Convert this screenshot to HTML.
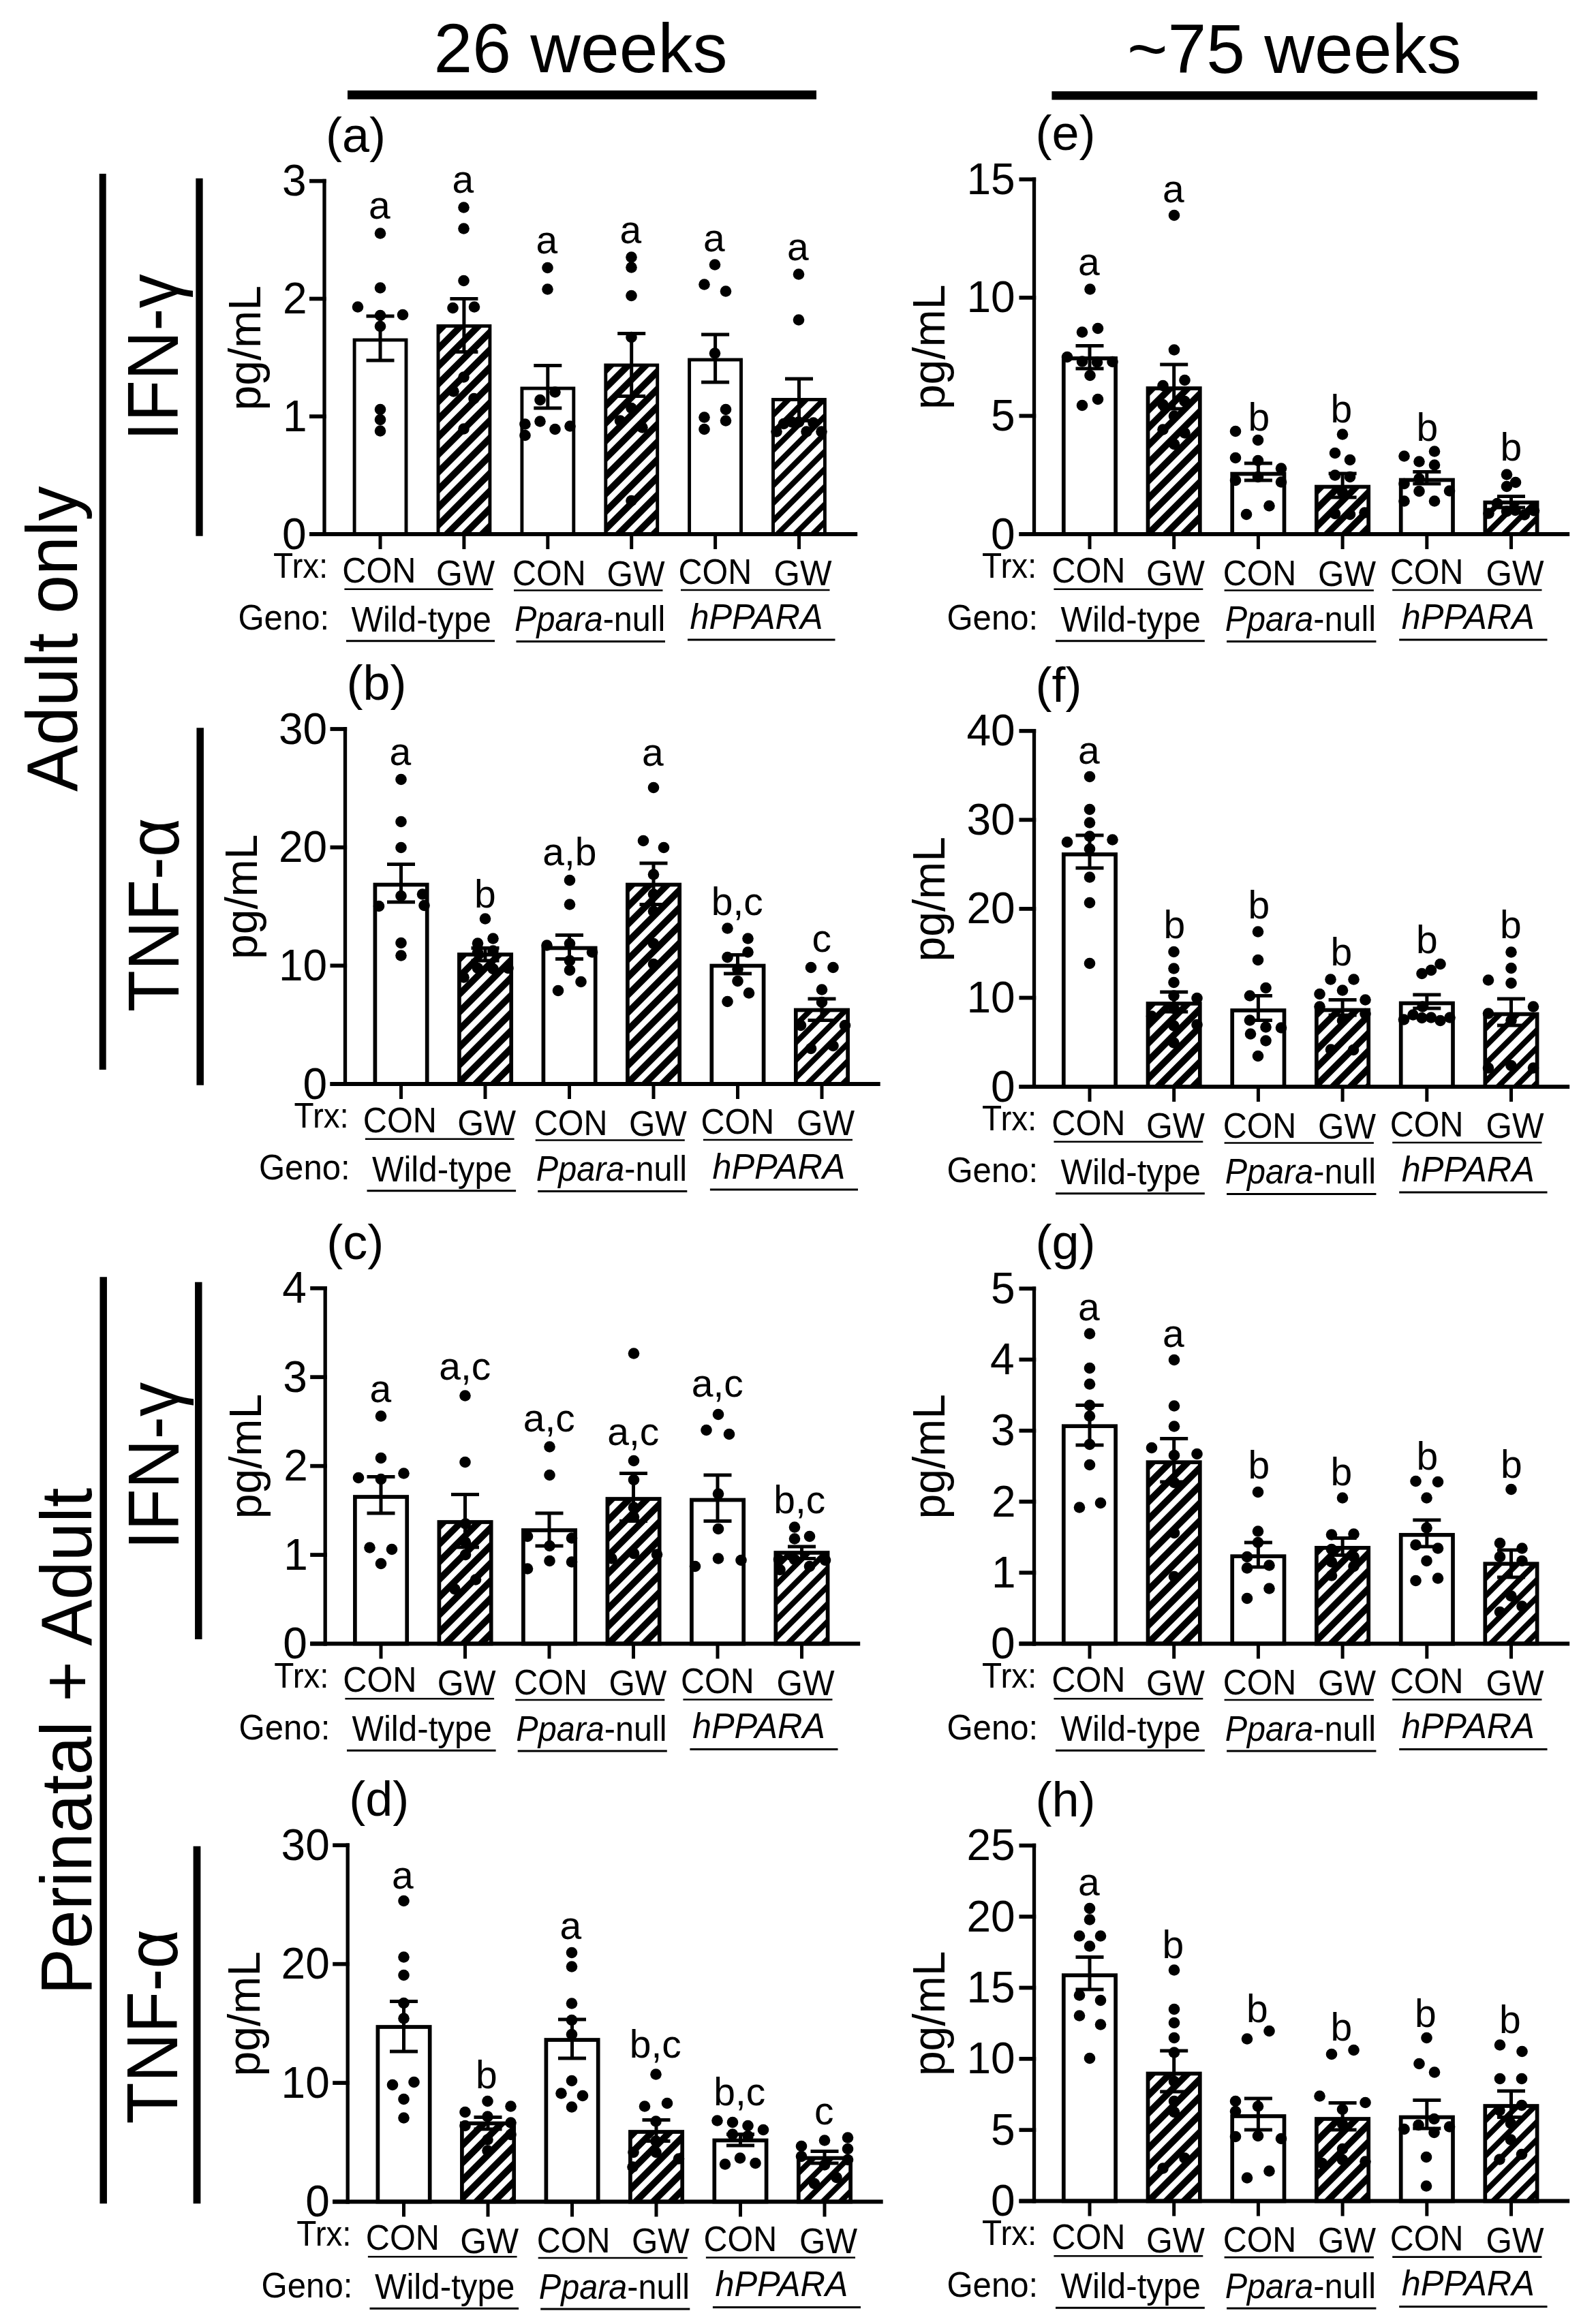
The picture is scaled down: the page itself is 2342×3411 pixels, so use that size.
<!DOCTYPE html>
<html><head><meta charset="utf-8"><title>Figure</title>
<style>html,body{margin:0;padding:0;background:#fff}svg{display:block}text{font-family:'Liberation Sans', sans-serif;fill:#000}</style>
</head><body>
<svg width="2342" height="3411" viewBox="0 0 2342 3411">
<rect width="2342" height="3411" fill="#fff"/>
<rect x="520.1" y="499.0" width="75.9" height="285.0" fill="#fff" stroke="#000" stroke-width="4.9"/>
<clipPath id="c1"><rect x="643.0" y="478.5" width="75.9" height="305.5"/></clipPath>
<rect x="643.0" y="478.5" width="75.9" height="305.5" fill="#000"/>
<path d="M630.5 485.4L731.3 384.7M630.5 511.4L731.3 410.6M630.5 537.2L731.3 436.5M630.5 563.1L731.3 462.4M630.5 589.0L731.3 488.2M630.5 615.0L731.3 514.1M630.5 640.9L731.3 540.1M630.5 666.8L731.3 566.0M630.5 692.6L731.3 591.9M630.5 718.5L731.3 617.8M630.5 744.5L731.3 643.6M630.5 770.4L731.3 669.5M630.5 796.2L731.3 695.5M630.5 822.1L731.3 721.3M630.5 848.0L731.3 747.2M630.5 874.0L731.3 773.1" stroke="#fff" stroke-width="8.49" fill="none" clip-path="url(#c1)"/>
<rect x="643.0" y="478.5" width="75.9" height="305.5" fill="none" stroke="#000" stroke-width="4.9"/>
<rect x="765.9" y="570.0" width="75.9" height="214.0" fill="#fff" stroke="#000" stroke-width="4.9"/>
<clipPath id="c2"><rect x="888.8" y="536.0" width="75.9" height="248.0"/></clipPath>
<rect x="888.8" y="536.0" width="75.9" height="248.0" fill="#000"/>
<path d="M876.3 542.9L977.1 442.1M876.3 568.8L977.1 468.0M876.3 594.8L977.1 493.9M876.3 620.6L977.1 519.8M876.3 646.5L977.1 545.8M876.3 672.4L977.1 571.6M876.3 698.3L977.1 597.5M876.3 724.2L977.1 623.4M876.3 750.1L977.1 649.3M876.3 776.0L977.1 675.2M876.3 801.9L977.1 701.1M876.3 827.8L977.1 727.0M876.3 853.8L977.1 752.9M876.3 879.6L977.1 778.8" stroke="#fff" stroke-width="8.49" fill="none" clip-path="url(#c2)"/>
<rect x="888.8" y="536.0" width="75.9" height="248.0" fill="none" stroke="#000" stroke-width="4.9"/>
<rect x="1011.6" y="528.0" width="75.9" height="256.0" fill="#fff" stroke="#000" stroke-width="4.9"/>
<clipPath id="c3"><rect x="1134.5" y="586.5" width="75.9" height="197.5"/></clipPath>
<rect x="1134.5" y="586.5" width="75.9" height="197.5" fill="#000"/>
<path d="M1122.1 582.5L1222.9 481.7M1122.1 608.4L1222.9 507.6M1122.1 634.3L1222.9 533.5M1122.1 660.2L1222.9 559.4M1122.1 686.1L1222.9 585.3M1122.1 712.0L1222.9 611.2M1122.1 737.9L1222.9 637.1M1122.1 763.8L1222.9 663.0M1122.1 789.8L1222.9 688.9M1122.1 815.6L1222.9 714.8M1122.1 841.5L1222.9 740.8M1122.1 867.4L1222.9 766.6" stroke="#fff" stroke-width="10.18" fill="none" clip-path="url(#c3)"/>
<rect x="1134.5" y="586.5" width="75.9" height="197.5" fill="none" stroke="#000" stroke-width="4.9"/>
<line x1="558.0" y1="464.0" x2="558.0" y2="529.0" stroke="#000" stroke-width="5.0" stroke-linecap="butt"/>
<line x1="537.5" y1="464.0" x2="578.5" y2="464.0" stroke="#000" stroke-width="5.0" stroke-linecap="butt"/>
<line x1="537.5" y1="529.0" x2="578.5" y2="529.0" stroke="#000" stroke-width="5.0" stroke-linecap="butt"/>
<line x1="680.9" y1="438.5" x2="680.9" y2="516.5" stroke="#000" stroke-width="5.0" stroke-linecap="butt"/>
<line x1="660.4" y1="438.5" x2="701.4" y2="438.5" stroke="#000" stroke-width="5.0" stroke-linecap="butt"/>
<line x1="660.4" y1="516.5" x2="701.4" y2="516.5" stroke="#000" stroke-width="5.0" stroke-linecap="butt"/>
<line x1="803.8" y1="536.5" x2="803.8" y2="599.0" stroke="#000" stroke-width="5.0" stroke-linecap="butt"/>
<line x1="783.3" y1="536.5" x2="824.3" y2="536.5" stroke="#000" stroke-width="5.0" stroke-linecap="butt"/>
<line x1="783.3" y1="599.0" x2="824.3" y2="599.0" stroke="#000" stroke-width="5.0" stroke-linecap="butt"/>
<line x1="926.7" y1="489.5" x2="926.7" y2="581.5" stroke="#000" stroke-width="5.0" stroke-linecap="butt"/>
<line x1="906.2" y1="489.5" x2="947.2" y2="489.5" stroke="#000" stroke-width="5.0" stroke-linecap="butt"/>
<line x1="906.2" y1="581.5" x2="947.2" y2="581.5" stroke="#000" stroke-width="5.0" stroke-linecap="butt"/>
<line x1="1049.6" y1="491.0" x2="1049.6" y2="561.0" stroke="#000" stroke-width="5.0" stroke-linecap="butt"/>
<line x1="1029.1" y1="491.0" x2="1070.1" y2="491.0" stroke="#000" stroke-width="5.0" stroke-linecap="butt"/>
<line x1="1029.1" y1="561.0" x2="1070.1" y2="561.0" stroke="#000" stroke-width="5.0" stroke-linecap="butt"/>
<line x1="1172.5" y1="556.0" x2="1172.5" y2="617.5" stroke="#000" stroke-width="5.0" stroke-linecap="butt"/>
<line x1="1152.0" y1="556.0" x2="1193.0" y2="556.0" stroke="#000" stroke-width="5.0" stroke-linecap="butt"/>
<line x1="1152.0" y1="617.5" x2="1193.0" y2="617.5" stroke="#000" stroke-width="5.0" stroke-linecap="butt"/>
<circle cx="558.0" cy="342.5" r="8.3"/>
<circle cx="558.0" cy="422.5" r="8.3"/>
<circle cx="525.0" cy="450.5" r="8.3"/>
<circle cx="591.0" cy="462.0" r="8.3"/>
<circle cx="558.0" cy="463.0" r="8.3"/>
<circle cx="558.0" cy="479.0" r="8.3"/>
<circle cx="558.0" cy="601.0" r="8.3"/>
<circle cx="558.0" cy="616.0" r="8.3"/>
<circle cx="558.0" cy="632.5" r="8.3"/>
<circle cx="680.5" cy="304.5" r="8.3"/>
<circle cx="680.5" cy="335.5" r="8.3"/>
<circle cx="680.5" cy="412.0" r="8.3"/>
<circle cx="664.5" cy="452.0" r="8.3"/>
<circle cx="696.0" cy="450.5" r="8.3"/>
<circle cx="680.5" cy="553.5" r="8.3"/>
<circle cx="665.5" cy="574.5" r="8.3"/>
<circle cx="695.5" cy="585.0" r="8.3"/>
<circle cx="680.5" cy="629.5" r="8.3"/>
<circle cx="803.5" cy="393.0" r="8.3"/>
<circle cx="803.5" cy="424.5" r="8.3"/>
<circle cx="814.5" cy="575.5" r="8.3"/>
<circle cx="792.5" cy="587.0" r="8.3"/>
<circle cx="792.5" cy="618.5" r="8.3"/>
<circle cx="770.5" cy="622.5" r="8.3"/>
<circle cx="770.5" cy="639.0" r="8.3"/>
<circle cx="814.5" cy="630.0" r="8.3"/>
<circle cx="836.5" cy="625.5" r="8.3"/>
<circle cx="926.5" cy="377.5" r="8.3"/>
<circle cx="926.5" cy="392.5" r="8.3"/>
<circle cx="926.5" cy="434.0" r="8.3"/>
<circle cx="926.5" cy="495.0" r="8.3"/>
<circle cx="926.5" cy="599.0" r="8.3"/>
<circle cx="910.0" cy="617.5" r="8.3"/>
<circle cx="942.5" cy="627.5" r="8.3"/>
<circle cx="926.5" cy="735.0" r="8.3"/>
<circle cx="1049.0" cy="388.5" r="8.3"/>
<circle cx="1033.5" cy="417.5" r="8.3"/>
<circle cx="1065.0" cy="427.5" r="8.3"/>
<circle cx="1049.0" cy="518.5" r="8.3"/>
<circle cx="1065.0" cy="601.0" r="8.3"/>
<circle cx="1033.5" cy="612.5" r="8.3"/>
<circle cx="1065.0" cy="617.5" r="8.3"/>
<circle cx="1033.5" cy="630.0" r="8.3"/>
<circle cx="1172.0" cy="402.5" r="8.3"/>
<circle cx="1172.0" cy="469.5" r="8.3"/>
<circle cx="1150.0" cy="622.0" r="8.3"/>
<circle cx="1162.0" cy="619.5" r="8.3"/>
<circle cx="1172.0" cy="619.5" r="8.3"/>
<circle cx="1193.5" cy="620.5" r="8.3"/>
<circle cx="1139.5" cy="633.5" r="8.3"/>
<circle cx="1183.5" cy="633.5" r="8.3"/>
<circle cx="1205.5" cy="633.5" r="8.3"/>
<line x1="454.0" y1="784.0" x2="1258.2" y2="784.0" stroke="#000" stroke-width="6.0" stroke-linecap="butt"/>
<line x1="476.0" y1="787.0" x2="476.0" y2="262.8" stroke="#000" stroke-width="5.3" stroke-linecap="butt"/>
<line x1="558.0" y1="784.0" x2="558.0" y2="806.0" stroke="#000" stroke-width="5.0" stroke-linecap="butt"/>
<line x1="680.9" y1="784.0" x2="680.9" y2="806.0" stroke="#000" stroke-width="5.0" stroke-linecap="butt"/>
<line x1="803.8" y1="784.0" x2="803.8" y2="806.0" stroke="#000" stroke-width="5.0" stroke-linecap="butt"/>
<line x1="926.7" y1="784.0" x2="926.7" y2="806.0" stroke="#000" stroke-width="5.0" stroke-linecap="butt"/>
<line x1="1049.6" y1="784.0" x2="1049.6" y2="806.0" stroke="#000" stroke-width="5.0" stroke-linecap="butt"/>
<line x1="1172.5" y1="784.0" x2="1172.5" y2="806.0" stroke="#000" stroke-width="5.0" stroke-linecap="butt"/>
<line x1="454.0" y1="784.0" x2="478.6" y2="784.0" stroke="#000" stroke-width="5.8" stroke-linecap="butt"/>
<line x1="454.0" y1="611.2" x2="478.6" y2="611.2" stroke="#000" stroke-width="5.8" stroke-linecap="butt"/>
<line x1="454.0" y1="438.5" x2="478.6" y2="438.5" stroke="#000" stroke-width="5.8" stroke-linecap="butt"/>
<line x1="454.0" y1="265.7" x2="478.6" y2="265.7" stroke="#000" stroke-width="5.8" stroke-linecap="butt"/>
<line x1="505.4" y1="864.7" x2="723.5" y2="864.7" stroke="#000" stroke-width="2.6" stroke-linecap="butt"/>
<line x1="754.0" y1="866.5" x2="972.5" y2="866.5" stroke="#000" stroke-width="2.6" stroke-linecap="butt"/>
<line x1="999.0" y1="866.0" x2="1217.5" y2="866.0" stroke="#000" stroke-width="2.6" stroke-linecap="butt"/>
<line x1="508.0" y1="940.7" x2="726.0" y2="940.7" stroke="#000" stroke-width="3" stroke-linecap="butt"/>
<line x1="757.5" y1="941.5" x2="976.0" y2="941.5" stroke="#000" stroke-width="3" stroke-linecap="butt"/>
<line x1="1009.0" y1="939.0" x2="1225.5" y2="939.0" stroke="#000" stroke-width="3" stroke-linecap="butt"/>
<rect x="550.4" y="1298.5" width="76.3" height="292.5" fill="#fff" stroke="#000" stroke-width="5.7"/>
<clipPath id="c4"><rect x="673.9" y="1401.0" width="76.3" height="190.0"/></clipPath>
<rect x="673.9" y="1401.0" width="76.3" height="190.0" fill="#000"/>
<path d="M661.0 1407.6L763.0 1305.6M661.0 1433.5L763.0 1331.5M661.0 1459.4L763.0 1357.4M661.0 1485.2L763.0 1383.2M661.0 1511.2L763.0 1409.2M661.0 1537.1L763.0 1435.1M661.0 1563.0L763.0 1461.0M661.0 1588.9L763.0 1486.9M661.0 1614.8L763.0 1512.8M661.0 1640.7L763.0 1538.7M661.0 1666.6L763.0 1564.6M661.0 1692.5L763.0 1590.5" stroke="#fff" stroke-width="8.49" fill="none" clip-path="url(#c4)"/>
<rect x="673.9" y="1401.0" width="76.3" height="190.0" fill="none" stroke="#000" stroke-width="5.7"/>
<rect x="797.4" y="1391.5" width="76.3" height="199.5" fill="#fff" stroke="#000" stroke-width="5.7"/>
<clipPath id="c5"><rect x="920.9" y="1298.5" width="76.3" height="292.5"/></clipPath>
<rect x="920.9" y="1298.5" width="76.3" height="292.5" fill="#000"/>
<path d="M908.0 1305.1L1010.0 1203.1M908.0 1331.0L1010.0 1229.0M908.0 1356.9L1010.0 1254.9M908.0 1382.8L1010.0 1280.8M908.0 1408.7L1010.0 1306.7M908.0 1434.6L1010.0 1332.6M908.0 1460.5L1010.0 1358.5M908.0 1486.4L1010.0 1384.4M908.0 1512.2L1010.0 1410.2M908.0 1538.2L1010.0 1436.2M908.0 1564.1L1010.0 1462.1M908.0 1590.0L1010.0 1488.0M908.0 1615.9L1010.0 1513.9M908.0 1641.8L1010.0 1539.8M908.0 1667.7L1010.0 1565.7M908.0 1693.6L1010.0 1591.6" stroke="#fff" stroke-width="8.49" fill="none" clip-path="url(#c5)"/>
<rect x="920.9" y="1298.5" width="76.3" height="292.5" fill="none" stroke="#000" stroke-width="5.7"/>
<rect x="1044.3" y="1417.5" width="76.3" height="173.5" fill="#fff" stroke="#000" stroke-width="5.7"/>
<clipPath id="c6"><rect x="1167.8" y="1482.5" width="76.3" height="108.5"/></clipPath>
<rect x="1167.8" y="1482.5" width="76.3" height="108.5" fill="#000"/>
<path d="M1155.0 1478.2L1257.0 1376.2M1155.0 1504.1L1257.0 1402.1M1155.0 1530.0L1257.0 1428.0M1155.0 1555.9L1257.0 1453.9M1155.0 1581.8L1257.0 1479.8M1155.0 1607.7L1257.0 1505.7M1155.0 1633.6L1257.0 1531.6M1155.0 1659.5L1257.0 1557.5M1155.0 1685.4L1257.0 1583.4" stroke="#fff" stroke-width="10.18" fill="none" clip-path="url(#c6)"/>
<rect x="1167.8" y="1482.5" width="76.3" height="108.5" fill="none" stroke="#000" stroke-width="5.7"/>
<line x1="588.5" y1="1268.5" x2="588.5" y2="1324.0" stroke="#000" stroke-width="5.0" stroke-linecap="butt"/>
<line x1="568.0" y1="1268.5" x2="609.0" y2="1268.5" stroke="#000" stroke-width="5.0" stroke-linecap="butt"/>
<line x1="568.0" y1="1324.0" x2="609.0" y2="1324.0" stroke="#000" stroke-width="5.0" stroke-linecap="butt"/>
<line x1="712.0" y1="1391.5" x2="712.0" y2="1410.0" stroke="#000" stroke-width="5.0" stroke-linecap="butt"/>
<line x1="691.5" y1="1391.5" x2="732.5" y2="1391.5" stroke="#000" stroke-width="5.0" stroke-linecap="butt"/>
<line x1="691.5" y1="1410.0" x2="732.5" y2="1410.0" stroke="#000" stroke-width="5.0" stroke-linecap="butt"/>
<line x1="835.5" y1="1372.5" x2="835.5" y2="1407.5" stroke="#000" stroke-width="5.0" stroke-linecap="butt"/>
<line x1="815.0" y1="1372.5" x2="856.0" y2="1372.5" stroke="#000" stroke-width="5.0" stroke-linecap="butt"/>
<line x1="815.0" y1="1407.5" x2="856.0" y2="1407.5" stroke="#000" stroke-width="5.0" stroke-linecap="butt"/>
<line x1="959.0" y1="1267.0" x2="959.0" y2="1327.5" stroke="#000" stroke-width="5.0" stroke-linecap="butt"/>
<line x1="938.5" y1="1267.0" x2="979.5" y2="1267.0" stroke="#000" stroke-width="5.0" stroke-linecap="butt"/>
<line x1="938.5" y1="1327.5" x2="979.5" y2="1327.5" stroke="#000" stroke-width="5.0" stroke-linecap="butt"/>
<line x1="1082.5" y1="1401.5" x2="1082.5" y2="1429.0" stroke="#000" stroke-width="5.0" stroke-linecap="butt"/>
<line x1="1062.0" y1="1401.5" x2="1103.0" y2="1401.5" stroke="#000" stroke-width="5.0" stroke-linecap="butt"/>
<line x1="1062.0" y1="1429.0" x2="1103.0" y2="1429.0" stroke="#000" stroke-width="5.0" stroke-linecap="butt"/>
<line x1="1206.0" y1="1466.0" x2="1206.0" y2="1497.5" stroke="#000" stroke-width="5.0" stroke-linecap="butt"/>
<line x1="1185.5" y1="1466.0" x2="1226.5" y2="1466.0" stroke="#000" stroke-width="5.0" stroke-linecap="butt"/>
<line x1="1185.5" y1="1497.5" x2="1226.5" y2="1497.5" stroke="#000" stroke-width="5.0" stroke-linecap="butt"/>
<circle cx="588.5" cy="1144.0" r="8.3"/>
<circle cx="588.5" cy="1206.0" r="8.3"/>
<circle cx="588.5" cy="1244.0" r="8.3"/>
<circle cx="588.5" cy="1315.0" r="8.3"/>
<circle cx="620.0" cy="1312.5" r="8.3"/>
<circle cx="556.0" cy="1330.0" r="8.3"/>
<circle cx="622.5" cy="1329.0" r="8.3"/>
<circle cx="588.5" cy="1384.0" r="8.3"/>
<circle cx="588.5" cy="1402.5" r="8.3"/>
<circle cx="712.0" cy="1348.5" r="8.3"/>
<circle cx="701.0" cy="1384.5" r="8.3"/>
<circle cx="723.5" cy="1377.5" r="8.3"/>
<circle cx="701.0" cy="1398.0" r="8.3"/>
<circle cx="723.5" cy="1395.5" r="8.3"/>
<circle cx="701.0" cy="1421.0" r="8.3"/>
<circle cx="723.5" cy="1422.0" r="8.3"/>
<circle cx="745.5" cy="1421.0" r="8.3"/>
<circle cx="680.5" cy="1434.5" r="8.3"/>
<circle cx="836.0" cy="1292.0" r="8.3"/>
<circle cx="836.0" cy="1327.5" r="8.3"/>
<circle cx="802.5" cy="1387.5" r="8.3"/>
<circle cx="836.0" cy="1385.0" r="8.3"/>
<circle cx="869.0" cy="1397.5" r="8.3"/>
<circle cx="836.0" cy="1410.0" r="8.3"/>
<circle cx="836.0" cy="1424.0" r="8.3"/>
<circle cx="852.5" cy="1441.0" r="8.3"/>
<circle cx="819.0" cy="1454.0" r="8.3"/>
<circle cx="959.0" cy="1156.0" r="8.3"/>
<circle cx="944.0" cy="1234.0" r="8.3"/>
<circle cx="974.0" cy="1244.0" r="8.3"/>
<circle cx="959.0" cy="1283.5" r="8.3"/>
<circle cx="959.0" cy="1312.5" r="8.3"/>
<circle cx="959.0" cy="1337.5" r="8.3"/>
<circle cx="959.0" cy="1385.0" r="8.3"/>
<circle cx="959.0" cy="1415.0" r="8.3"/>
<circle cx="1067.5" cy="1362.5" r="8.3"/>
<circle cx="1097.5" cy="1377.5" r="8.3"/>
<circle cx="1097.5" cy="1397.5" r="8.3"/>
<circle cx="1067.5" cy="1405.0" r="8.3"/>
<circle cx="1082.5" cy="1422.5" r="8.3"/>
<circle cx="1082.5" cy="1440.0" r="8.3"/>
<circle cx="1099.0" cy="1457.5" r="8.3"/>
<circle cx="1067.5" cy="1470.0" r="8.3"/>
<circle cx="1190.0" cy="1420.0" r="8.3"/>
<circle cx="1222.5" cy="1420.0" r="8.3"/>
<circle cx="1206.0" cy="1452.5" r="8.3"/>
<circle cx="1206.0" cy="1471.0" r="8.3"/>
<circle cx="1175.0" cy="1505.0" r="8.3"/>
<circle cx="1240.0" cy="1505.0" r="8.3"/>
<circle cx="1190.0" cy="1539.0" r="8.3"/>
<circle cx="1222.5" cy="1535.0" r="8.3"/>
<line x1="484.5" y1="1591.0" x2="1291.7" y2="1591.0" stroke="#000" stroke-width="6.0" stroke-linecap="butt"/>
<line x1="506.5" y1="1594.0" x2="506.5" y2="1067.1" stroke="#000" stroke-width="5.3" stroke-linecap="butt"/>
<line x1="588.5" y1="1591.0" x2="588.5" y2="1613.0" stroke="#000" stroke-width="5.0" stroke-linecap="butt"/>
<line x1="712.0" y1="1591.0" x2="712.0" y2="1613.0" stroke="#000" stroke-width="5.0" stroke-linecap="butt"/>
<line x1="835.5" y1="1591.0" x2="835.5" y2="1613.0" stroke="#000" stroke-width="5.0" stroke-linecap="butt"/>
<line x1="959.0" y1="1591.0" x2="959.0" y2="1613.0" stroke="#000" stroke-width="5.0" stroke-linecap="butt"/>
<line x1="1082.5" y1="1591.0" x2="1082.5" y2="1613.0" stroke="#000" stroke-width="5.0" stroke-linecap="butt"/>
<line x1="1206.0" y1="1591.0" x2="1206.0" y2="1613.0" stroke="#000" stroke-width="5.0" stroke-linecap="butt"/>
<line x1="484.5" y1="1591.0" x2="509.1" y2="1591.0" stroke="#000" stroke-width="5.8" stroke-linecap="butt"/>
<line x1="484.5" y1="1417.3" x2="509.1" y2="1417.3" stroke="#000" stroke-width="5.8" stroke-linecap="butt"/>
<line x1="484.5" y1="1243.7" x2="509.1" y2="1243.7" stroke="#000" stroke-width="5.8" stroke-linecap="butt"/>
<line x1="484.5" y1="1070.0" x2="509.1" y2="1070.0" stroke="#000" stroke-width="5.8" stroke-linecap="butt"/>
<line x1="535.9" y1="1671.7" x2="754.6" y2="1671.7" stroke="#000" stroke-width="2.6" stroke-linecap="butt"/>
<line x1="785.7" y1="1673.5" x2="1004.8" y2="1673.5" stroke="#000" stroke-width="2.6" stroke-linecap="butt"/>
<line x1="1031.9" y1="1673.0" x2="1251.0" y2="1673.0" stroke="#000" stroke-width="2.6" stroke-linecap="butt"/>
<line x1="538.5" y1="1747.7" x2="757.1" y2="1747.7" stroke="#000" stroke-width="3" stroke-linecap="butt"/>
<line x1="789.2" y1="1748.5" x2="1008.3" y2="1748.5" stroke="#000" stroke-width="3" stroke-linecap="butt"/>
<line x1="1041.9" y1="1746.0" x2="1259.0" y2="1746.0" stroke="#000" stroke-width="3" stroke-linecap="butt"/>
<rect x="520.9" y="2197.0" width="76.3" height="215.5" fill="#fff" stroke="#000" stroke-width="5.7"/>
<clipPath id="c7"><rect x="644.4" y="2234.0" width="76.3" height="178.5"/></clipPath>
<rect x="644.4" y="2234.0" width="76.3" height="178.5" fill="#000"/>
<path d="M631.5 2240.6L733.5 2138.6M631.5 2266.5L733.5 2164.5M631.5 2292.3L733.5 2190.3M631.5 2318.2L733.5 2216.2M631.5 2344.2L733.5 2242.2M631.5 2370.1L733.5 2268.1M631.5 2396.0L733.5 2294.0M631.5 2421.8L733.5 2319.8M631.5 2447.8L733.5 2345.8M631.5 2473.7L733.5 2371.7M631.5 2499.6L733.5 2397.6" stroke="#fff" stroke-width="8.49" fill="none" clip-path="url(#c7)"/>
<rect x="644.4" y="2234.0" width="76.3" height="178.5" fill="none" stroke="#000" stroke-width="5.7"/>
<rect x="767.9" y="2246.0" width="76.3" height="166.5" fill="#fff" stroke="#000" stroke-width="5.7"/>
<clipPath id="c8"><rect x="891.4" y="2200.0" width="76.3" height="212.5"/></clipPath>
<rect x="891.4" y="2200.0" width="76.3" height="212.5" fill="#000"/>
<path d="M878.5 2206.6L980.5 2104.6M878.5 2232.5L980.5 2130.5M878.5 2258.3L980.5 2156.3M878.5 2284.2L980.5 2182.2M878.5 2310.2L980.5 2208.2M878.5 2336.1L980.5 2234.1M878.5 2362.0L980.5 2260.0M878.5 2387.8L980.5 2285.8M878.5 2413.8L980.5 2311.8M878.5 2439.7L980.5 2337.7M878.5 2465.6L980.5 2363.6M878.5 2491.5L980.5 2389.5" stroke="#fff" stroke-width="8.49" fill="none" clip-path="url(#c8)"/>
<rect x="891.4" y="2200.0" width="76.3" height="212.5" fill="none" stroke="#000" stroke-width="5.7"/>
<rect x="1014.9" y="2201.5" width="76.3" height="211.0" fill="#fff" stroke="#000" stroke-width="5.7"/>
<clipPath id="c9"><rect x="1138.3" y="2279.0" width="76.3" height="133.5"/></clipPath>
<rect x="1138.3" y="2279.0" width="76.3" height="133.5" fill="#000"/>
<path d="M1125.5 2274.7L1227.5 2172.7M1125.5 2300.6L1227.5 2198.6M1125.5 2326.5L1227.5 2224.5M1125.5 2352.3L1227.5 2250.3M1125.5 2378.2L1227.5 2276.2M1125.5 2404.2L1227.5 2302.2M1125.5 2430.1L1227.5 2328.1M1125.5 2456.0L1227.5 2354.0M1125.5 2481.8L1227.5 2379.8M1125.5 2507.8L1227.5 2405.8" stroke="#fff" stroke-width="10.18" fill="none" clip-path="url(#c9)"/>
<rect x="1138.3" y="2279.0" width="76.3" height="133.5" fill="none" stroke="#000" stroke-width="5.7"/>
<line x1="559.0" y1="2167.5" x2="559.0" y2="2221.0" stroke="#000" stroke-width="5.0" stroke-linecap="butt"/>
<line x1="538.5" y1="2167.5" x2="579.5" y2="2167.5" stroke="#000" stroke-width="5.0" stroke-linecap="butt"/>
<line x1="538.5" y1="2221.0" x2="579.5" y2="2221.0" stroke="#000" stroke-width="5.0" stroke-linecap="butt"/>
<line x1="682.5" y1="2193.5" x2="682.5" y2="2271.0" stroke="#000" stroke-width="5.0" stroke-linecap="butt"/>
<line x1="662.0" y1="2193.5" x2="703.0" y2="2193.5" stroke="#000" stroke-width="5.0" stroke-linecap="butt"/>
<line x1="662.0" y1="2271.0" x2="703.0" y2="2271.0" stroke="#000" stroke-width="5.0" stroke-linecap="butt"/>
<line x1="806.0" y1="2221.0" x2="806.0" y2="2269.0" stroke="#000" stroke-width="5.0" stroke-linecap="butt"/>
<line x1="785.5" y1="2221.0" x2="826.5" y2="2221.0" stroke="#000" stroke-width="5.0" stroke-linecap="butt"/>
<line x1="785.5" y1="2269.0" x2="826.5" y2="2269.0" stroke="#000" stroke-width="5.0" stroke-linecap="butt"/>
<line x1="929.5" y1="2162.5" x2="929.5" y2="2232.5" stroke="#000" stroke-width="5.0" stroke-linecap="butt"/>
<line x1="909.0" y1="2162.5" x2="950.0" y2="2162.5" stroke="#000" stroke-width="5.0" stroke-linecap="butt"/>
<line x1="909.0" y1="2232.5" x2="950.0" y2="2232.5" stroke="#000" stroke-width="5.0" stroke-linecap="butt"/>
<line x1="1053.0" y1="2165.0" x2="1053.0" y2="2232.5" stroke="#000" stroke-width="5.0" stroke-linecap="butt"/>
<line x1="1032.5" y1="2165.0" x2="1073.5" y2="2165.0" stroke="#000" stroke-width="5.0" stroke-linecap="butt"/>
<line x1="1032.5" y1="2232.5" x2="1073.5" y2="2232.5" stroke="#000" stroke-width="5.0" stroke-linecap="butt"/>
<line x1="1176.5" y1="2270.0" x2="1176.5" y2="2287.5" stroke="#000" stroke-width="5.0" stroke-linecap="butt"/>
<line x1="1156.0" y1="2270.0" x2="1197.0" y2="2270.0" stroke="#000" stroke-width="5.0" stroke-linecap="butt"/>
<line x1="1156.0" y1="2287.5" x2="1197.0" y2="2287.5" stroke="#000" stroke-width="5.0" stroke-linecap="butt"/>
<circle cx="559.0" cy="2078.5" r="8.3"/>
<circle cx="559.0" cy="2140.0" r="8.3"/>
<circle cx="526.0" cy="2169.0" r="8.3"/>
<circle cx="592.5" cy="2162.5" r="8.3"/>
<circle cx="559.0" cy="2171.0" r="8.3"/>
<circle cx="542.5" cy="2271.5" r="8.3"/>
<circle cx="575.0" cy="2274.0" r="8.3"/>
<circle cx="559.0" cy="2295.0" r="8.3"/>
<circle cx="682.5" cy="2048.5" r="8.3"/>
<circle cx="682.5" cy="2146.0" r="8.3"/>
<circle cx="683.0" cy="2236.5" r="8.3"/>
<circle cx="683.0" cy="2263.5" r="8.3"/>
<circle cx="683.0" cy="2282.0" r="8.3"/>
<circle cx="698.0" cy="2318.5" r="8.3"/>
<circle cx="667.5" cy="2332.5" r="8.3"/>
<circle cx="806.5" cy="2123.5" r="8.3"/>
<circle cx="806.5" cy="2165.0" r="8.3"/>
<circle cx="774.0" cy="2255.0" r="8.3"/>
<circle cx="839.0" cy="2257.5" r="8.3"/>
<circle cx="806.5" cy="2269.0" r="8.3"/>
<circle cx="806.5" cy="2291.0" r="8.3"/>
<circle cx="839.0" cy="2292.5" r="8.3"/>
<circle cx="774.0" cy="2302.5" r="8.3"/>
<circle cx="930.0" cy="1986.5" r="8.3"/>
<circle cx="930.0" cy="2144.0" r="8.3"/>
<circle cx="930.0" cy="2172.0" r="8.3"/>
<circle cx="930.0" cy="2212.5" r="8.3"/>
<circle cx="930.0" cy="2226.5" r="8.3"/>
<circle cx="930.0" cy="2280.0" r="8.3"/>
<circle cx="897.5" cy="2287.5" r="8.3"/>
<circle cx="964.0" cy="2281.5" r="8.3"/>
<circle cx="1054.0" cy="2076.0" r="8.3"/>
<circle cx="1036.5" cy="2099.0" r="8.3"/>
<circle cx="1070.0" cy="2105.0" r="8.3"/>
<circle cx="1054.0" cy="2192.5" r="8.3"/>
<circle cx="1054.0" cy="2244.0" r="8.3"/>
<circle cx="1054.0" cy="2287.5" r="8.3"/>
<circle cx="1020.0" cy="2299.0" r="8.3"/>
<circle cx="1087.5" cy="2290.0" r="8.3"/>
<circle cx="1166.0" cy="2241.5" r="8.3"/>
<circle cx="1166.0" cy="2258.5" r="8.3"/>
<circle cx="1188.0" cy="2255.0" r="8.3"/>
<circle cx="1143.0" cy="2289.0" r="8.3"/>
<circle cx="1166.0" cy="2289.0" r="8.3"/>
<circle cx="1211.0" cy="2290.0" r="8.3"/>
<circle cx="1188.0" cy="2299.0" r="8.3"/>
<circle cx="1144.5" cy="2304.0" r="8.3"/>
<line x1="455.2" y1="2412.5" x2="1262.2" y2="2412.5" stroke="#000" stroke-width="6.0" stroke-linecap="butt"/>
<line x1="477.2" y1="2415.5" x2="477.2" y2="1887.9" stroke="#000" stroke-width="5.3" stroke-linecap="butt"/>
<line x1="559.0" y1="2412.5" x2="559.0" y2="2434.5" stroke="#000" stroke-width="5.0" stroke-linecap="butt"/>
<line x1="682.5" y1="2412.5" x2="682.5" y2="2434.5" stroke="#000" stroke-width="5.0" stroke-linecap="butt"/>
<line x1="806.0" y1="2412.5" x2="806.0" y2="2434.5" stroke="#000" stroke-width="5.0" stroke-linecap="butt"/>
<line x1="929.5" y1="2412.5" x2="929.5" y2="2434.5" stroke="#000" stroke-width="5.0" stroke-linecap="butt"/>
<line x1="1053.0" y1="2412.5" x2="1053.0" y2="2434.5" stroke="#000" stroke-width="5.0" stroke-linecap="butt"/>
<line x1="1176.5" y1="2412.5" x2="1176.5" y2="2434.5" stroke="#000" stroke-width="5.0" stroke-linecap="butt"/>
<line x1="455.2" y1="2412.5" x2="479.8" y2="2412.5" stroke="#000" stroke-width="5.8" stroke-linecap="butt"/>
<line x1="455.2" y1="2282.1" x2="479.8" y2="2282.1" stroke="#000" stroke-width="5.8" stroke-linecap="butt"/>
<line x1="455.2" y1="2151.7" x2="479.8" y2="2151.7" stroke="#000" stroke-width="5.8" stroke-linecap="butt"/>
<line x1="455.2" y1="2021.2" x2="479.8" y2="2021.2" stroke="#000" stroke-width="5.8" stroke-linecap="butt"/>
<line x1="455.2" y1="1890.8" x2="479.8" y2="1890.8" stroke="#000" stroke-width="5.8" stroke-linecap="butt"/>
<line x1="506.4" y1="2493.2" x2="725.1" y2="2493.2" stroke="#000" stroke-width="2.6" stroke-linecap="butt"/>
<line x1="756.2" y1="2495.0" x2="975.3" y2="2495.0" stroke="#000" stroke-width="2.6" stroke-linecap="butt"/>
<line x1="1002.4" y1="2494.5" x2="1221.5" y2="2494.5" stroke="#000" stroke-width="2.6" stroke-linecap="butt"/>
<line x1="509.0" y1="2569.2" x2="727.6" y2="2569.2" stroke="#000" stroke-width="3" stroke-linecap="butt"/>
<line x1="759.7" y1="2570.0" x2="978.8" y2="2570.0" stroke="#000" stroke-width="3" stroke-linecap="butt"/>
<line x1="1012.4" y1="2567.5" x2="1229.5" y2="2567.5" stroke="#000" stroke-width="3" stroke-linecap="butt"/>
<rect x="554.4" y="2975.0" width="76.3" height="256.5" fill="#fff" stroke="#000" stroke-width="5.7"/>
<clipPath id="c10"><rect x="677.9" y="3116.5" width="76.3" height="115.0"/></clipPath>
<rect x="677.9" y="3116.5" width="76.3" height="115.0" fill="#000"/>
<path d="M665.0 3123.1L767.0 3021.1M665.0 3149.0L767.0 3047.0M665.0 3174.8L767.0 3072.8M665.0 3200.8L767.0 3098.8M665.0 3226.7L767.0 3124.7M665.0 3252.6L767.0 3150.6M665.0 3278.5L767.0 3176.5M665.0 3304.3L767.0 3202.3M665.0 3330.2L767.0 3228.2" stroke="#fff" stroke-width="8.49" fill="none" clip-path="url(#c10)"/>
<rect x="677.9" y="3116.5" width="76.3" height="115.0" fill="none" stroke="#000" stroke-width="5.7"/>
<rect x="801.4" y="2994.0" width="76.3" height="237.5" fill="#fff" stroke="#000" stroke-width="5.7"/>
<clipPath id="c11"><rect x="924.9" y="3129.0" width="76.3" height="102.5"/></clipPath>
<rect x="924.9" y="3129.0" width="76.3" height="102.5" fill="#000"/>
<path d="M912.0 3135.6L1014.0 3033.6M912.0 3161.5L1014.0 3059.5M912.0 3187.3L1014.0 3085.3M912.0 3213.2L1014.0 3111.2M912.0 3239.2L1014.0 3137.2M912.0 3265.1L1014.0 3163.1M912.0 3291.0L1014.0 3189.0M912.0 3316.8L1014.0 3214.8" stroke="#fff" stroke-width="8.49" fill="none" clip-path="url(#c11)"/>
<rect x="924.9" y="3129.0" width="76.3" height="102.5" fill="none" stroke="#000" stroke-width="5.7"/>
<rect x="1048.3" y="3141.5" width="76.3" height="90.0" fill="#fff" stroke="#000" stroke-width="5.7"/>
<clipPath id="c12"><rect x="1171.8" y="3167.5" width="76.3" height="64.0"/></clipPath>
<rect x="1171.8" y="3167.5" width="76.3" height="64.0" fill="#000"/>
<path d="M1159.0 3163.2L1261.0 3061.2M1159.0 3189.1L1261.0 3087.1M1159.0 3215.0L1261.0 3113.0M1159.0 3240.8L1261.0 3138.8M1159.0 3266.8L1261.0 3164.8M1159.0 3292.7L1261.0 3190.7M1159.0 3318.6L1261.0 3216.6" stroke="#fff" stroke-width="10.18" fill="none" clip-path="url(#c12)"/>
<rect x="1171.8" y="3167.5" width="76.3" height="64.0" fill="none" stroke="#000" stroke-width="5.7"/>
<line x1="592.5" y1="2937.5" x2="592.5" y2="3011.0" stroke="#000" stroke-width="5.0" stroke-linecap="butt"/>
<line x1="572.0" y1="2937.5" x2="613.0" y2="2937.5" stroke="#000" stroke-width="5.0" stroke-linecap="butt"/>
<line x1="572.0" y1="3011.0" x2="613.0" y2="3011.0" stroke="#000" stroke-width="5.0" stroke-linecap="butt"/>
<line x1="716.0" y1="3107.5" x2="716.0" y2="3125.0" stroke="#000" stroke-width="5.0" stroke-linecap="butt"/>
<line x1="695.5" y1="3107.5" x2="736.5" y2="3107.5" stroke="#000" stroke-width="5.0" stroke-linecap="butt"/>
<line x1="695.5" y1="3125.0" x2="736.5" y2="3125.0" stroke="#000" stroke-width="5.0" stroke-linecap="butt"/>
<line x1="839.5" y1="2964.0" x2="839.5" y2="3021.0" stroke="#000" stroke-width="5.0" stroke-linecap="butt"/>
<line x1="819.0" y1="2964.0" x2="860.0" y2="2964.0" stroke="#000" stroke-width="5.0" stroke-linecap="butt"/>
<line x1="819.0" y1="3021.0" x2="860.0" y2="3021.0" stroke="#000" stroke-width="5.0" stroke-linecap="butt"/>
<line x1="963.0" y1="3111.5" x2="963.0" y2="3142.5" stroke="#000" stroke-width="5.0" stroke-linecap="butt"/>
<line x1="942.5" y1="3111.5" x2="983.5" y2="3111.5" stroke="#000" stroke-width="5.0" stroke-linecap="butt"/>
<line x1="942.5" y1="3142.5" x2="983.5" y2="3142.5" stroke="#000" stroke-width="5.0" stroke-linecap="butt"/>
<line x1="1086.5" y1="3132.5" x2="1086.5" y2="3149.0" stroke="#000" stroke-width="5.0" stroke-linecap="butt"/>
<line x1="1066.0" y1="3132.5" x2="1107.0" y2="3132.5" stroke="#000" stroke-width="5.0" stroke-linecap="butt"/>
<line x1="1066.0" y1="3149.0" x2="1107.0" y2="3149.0" stroke="#000" stroke-width="5.0" stroke-linecap="butt"/>
<line x1="1210.0" y1="3157.5" x2="1210.0" y2="3175.0" stroke="#000" stroke-width="5.0" stroke-linecap="butt"/>
<line x1="1189.5" y1="3157.5" x2="1230.5" y2="3157.5" stroke="#000" stroke-width="5.0" stroke-linecap="butt"/>
<line x1="1189.5" y1="3175.0" x2="1230.5" y2="3175.0" stroke="#000" stroke-width="5.0" stroke-linecap="butt"/>
<circle cx="592.5" cy="2790.0" r="8.3"/>
<circle cx="592.5" cy="2872.5" r="8.3"/>
<circle cx="592.5" cy="2899.0" r="8.3"/>
<circle cx="592.5" cy="2940.0" r="8.3"/>
<circle cx="592.5" cy="2962.5" r="8.3"/>
<circle cx="576.0" cy="3060.0" r="8.3"/>
<circle cx="607.5" cy="3056.0" r="8.3"/>
<circle cx="592.5" cy="3081.0" r="8.3"/>
<circle cx="592.5" cy="3108.5" r="8.3"/>
<circle cx="715.5" cy="3084.0" r="8.3"/>
<circle cx="749.5" cy="3091.5" r="8.3"/>
<circle cx="682.5" cy="3100.0" r="8.3"/>
<circle cx="715.5" cy="3106.5" r="8.3"/>
<circle cx="682.5" cy="3120.0" r="8.3"/>
<circle cx="749.5" cy="3115.5" r="8.3"/>
<circle cx="749.5" cy="3133.0" r="8.3"/>
<circle cx="715.5" cy="3140.5" r="8.3"/>
<circle cx="715.5" cy="3156.5" r="8.3"/>
<circle cx="839.0" cy="2866.0" r="8.3"/>
<circle cx="839.0" cy="2886.5" r="8.3"/>
<circle cx="839.0" cy="2940.5" r="8.3"/>
<circle cx="839.0" cy="2965.0" r="8.3"/>
<circle cx="839.0" cy="2986.0" r="8.3"/>
<circle cx="839.0" cy="3054.0" r="8.3"/>
<circle cx="823.5" cy="3072.5" r="8.3"/>
<circle cx="855.0" cy="3076.0" r="8.3"/>
<circle cx="839.0" cy="3092.5" r="8.3"/>
<circle cx="962.5" cy="3044.5" r="8.3"/>
<circle cx="946.0" cy="3091.5" r="8.3"/>
<circle cx="979.0" cy="3087.0" r="8.3"/>
<circle cx="962.5" cy="3113.5" r="8.3"/>
<circle cx="962.5" cy="3142.5" r="8.3"/>
<circle cx="962.5" cy="3159.0" r="8.3"/>
<circle cx="929.5" cy="3159.0" r="8.3"/>
<circle cx="996.0" cy="3168.5" r="8.3"/>
<circle cx="928.5" cy="3180.5" r="8.3"/>
<circle cx="1052.5" cy="3112.5" r="8.3"/>
<circle cx="1075.0" cy="3115.0" r="8.3"/>
<circle cx="1097.5" cy="3120.0" r="8.3"/>
<circle cx="1120.0" cy="3126.0" r="8.3"/>
<circle cx="1075.0" cy="3132.5" r="8.3"/>
<circle cx="1097.5" cy="3135.0" r="8.3"/>
<circle cx="1086.0" cy="3167.5" r="8.3"/>
<circle cx="1064.0" cy="3176.5" r="8.3"/>
<circle cx="1108.5" cy="3175.0" r="8.3"/>
<circle cx="1244.0" cy="3137.5" r="8.3"/>
<circle cx="1210.0" cy="3141.5" r="8.3"/>
<circle cx="1176.0" cy="3150.0" r="8.3"/>
<circle cx="1244.0" cy="3154.0" r="8.3"/>
<circle cx="1176.0" cy="3165.0" r="8.3"/>
<circle cx="1244.0" cy="3170.0" r="8.3"/>
<circle cx="1210.0" cy="3177.5" r="8.3"/>
<circle cx="1227.5" cy="3196.0" r="8.3"/>
<circle cx="1195.0" cy="3205.0" r="8.3"/>
<line x1="488.2" y1="3231.5" x2="1295.7" y2="3231.5" stroke="#000" stroke-width="6.0" stroke-linecap="butt"/>
<line x1="510.2" y1="3234.5" x2="510.2" y2="2705.4" stroke="#000" stroke-width="5.3" stroke-linecap="butt"/>
<line x1="592.5" y1="3231.5" x2="592.5" y2="3253.5" stroke="#000" stroke-width="5.0" stroke-linecap="butt"/>
<line x1="716.0" y1="3231.5" x2="716.0" y2="3253.5" stroke="#000" stroke-width="5.0" stroke-linecap="butt"/>
<line x1="839.5" y1="3231.5" x2="839.5" y2="3253.5" stroke="#000" stroke-width="5.0" stroke-linecap="butt"/>
<line x1="963.0" y1="3231.5" x2="963.0" y2="3253.5" stroke="#000" stroke-width="5.0" stroke-linecap="butt"/>
<line x1="1086.5" y1="3231.5" x2="1086.5" y2="3253.5" stroke="#000" stroke-width="5.0" stroke-linecap="butt"/>
<line x1="1210.0" y1="3231.5" x2="1210.0" y2="3253.5" stroke="#000" stroke-width="5.0" stroke-linecap="butt"/>
<line x1="488.2" y1="3231.5" x2="512.9" y2="3231.5" stroke="#000" stroke-width="5.8" stroke-linecap="butt"/>
<line x1="488.2" y1="3057.1" x2="512.9" y2="3057.1" stroke="#000" stroke-width="5.8" stroke-linecap="butt"/>
<line x1="488.2" y1="2882.7" x2="512.9" y2="2882.7" stroke="#000" stroke-width="5.8" stroke-linecap="butt"/>
<line x1="488.2" y1="2708.3" x2="512.9" y2="2708.3" stroke="#000" stroke-width="5.8" stroke-linecap="butt"/>
<line x1="539.9" y1="3312.2" x2="758.6" y2="3312.2" stroke="#000" stroke-width="2.6" stroke-linecap="butt"/>
<line x1="789.7" y1="3314.0" x2="1008.8" y2="3314.0" stroke="#000" stroke-width="2.6" stroke-linecap="butt"/>
<line x1="1035.9" y1="3313.5" x2="1255.0" y2="3313.5" stroke="#000" stroke-width="2.6" stroke-linecap="butt"/>
<line x1="542.5" y1="3388.2" x2="761.1" y2="3388.2" stroke="#000" stroke-width="3" stroke-linecap="butt"/>
<line x1="793.2" y1="3389.0" x2="1012.3" y2="3389.0" stroke="#000" stroke-width="3" stroke-linecap="butt"/>
<line x1="1045.9" y1="3386.5" x2="1263.0" y2="3386.5" stroke="#000" stroke-width="3" stroke-linecap="butt"/>
<rect x="1560.8" y="526.0" width="76.3" height="258.0" fill="#fff" stroke="#000" stroke-width="5.7"/>
<clipPath id="c13"><rect x="1684.5" y="570.0" width="76.3" height="214.0"/></clipPath>
<rect x="1684.5" y="570.0" width="76.3" height="214.0" fill="#000"/>
<path d="M1671.7 576.5L1773.7 474.5M1671.7 602.4L1773.7 500.4M1671.7 628.4L1773.7 526.4M1671.7 654.2L1773.7 552.2M1671.7 680.1L1773.7 578.1M1671.7 706.0L1773.7 604.0M1671.7 732.0L1773.7 630.0M1671.7 757.8L1773.7 655.8M1671.7 783.8L1773.7 681.8M1671.7 809.6L1773.7 707.6M1671.7 835.5L1773.7 733.5M1671.7 861.5L1773.7 759.5M1671.7 887.3L1773.7 785.3" stroke="#fff" stroke-width="8.49" fill="none" clip-path="url(#c13)"/>
<rect x="1684.5" y="570.0" width="76.3" height="214.0" fill="none" stroke="#000" stroke-width="5.7"/>
<rect x="1808.2" y="695.5" width="76.3" height="88.5" fill="#fff" stroke="#000" stroke-width="5.7"/>
<clipPath id="c14"><rect x="1931.9" y="714.5" width="76.3" height="69.5"/></clipPath>
<rect x="1931.9" y="714.5" width="76.3" height="69.5" fill="#000"/>
<path d="M1919.1 721.0L2021.1 619.0M1919.1 746.9L2021.1 644.9M1919.1 772.9L2021.1 670.9M1919.1 798.8L2021.1 696.8M1919.1 824.6L2021.1 722.6M1919.1 850.5L2021.1 748.5M1919.1 876.5L2021.1 774.5" stroke="#fff" stroke-width="8.49" fill="none" clip-path="url(#c14)"/>
<rect x="1931.9" y="714.5" width="76.3" height="69.5" fill="none" stroke="#000" stroke-width="5.7"/>
<rect x="2055.7" y="704.5" width="76.3" height="79.5" fill="#fff" stroke="#000" stroke-width="5.7"/>
<clipPath id="c15"><rect x="2179.3" y="737.5" width="76.3" height="46.5"/></clipPath>
<rect x="2179.3" y="737.5" width="76.3" height="46.5" fill="#000"/>
<path d="M2166.5 733.1L2268.5 631.1M2166.5 759.0L2268.5 657.0M2166.5 784.9L2268.5 682.9M2166.5 810.9L2268.5 708.9M2166.5 836.8L2268.5 734.8M2166.5 862.6L2268.5 760.6M2166.5 888.5L2268.5 786.5" stroke="#fff" stroke-width="10.18" fill="none" clip-path="url(#c15)"/>
<rect x="2179.3" y="737.5" width="76.3" height="46.5" fill="none" stroke="#000" stroke-width="5.7"/>
<line x1="1599.0" y1="507.5" x2="1599.0" y2="541.0" stroke="#000" stroke-width="5.0" stroke-linecap="butt"/>
<line x1="1578.5" y1="507.5" x2="1619.5" y2="507.5" stroke="#000" stroke-width="5.0" stroke-linecap="butt"/>
<line x1="1578.5" y1="541.0" x2="1619.5" y2="541.0" stroke="#000" stroke-width="5.0" stroke-linecap="butt"/>
<line x1="1722.7" y1="535.0" x2="1722.7" y2="600.0" stroke="#000" stroke-width="5.0" stroke-linecap="butt"/>
<line x1="1702.2" y1="535.0" x2="1743.2" y2="535.0" stroke="#000" stroke-width="5.0" stroke-linecap="butt"/>
<line x1="1702.2" y1="600.0" x2="1743.2" y2="600.0" stroke="#000" stroke-width="5.0" stroke-linecap="butt"/>
<line x1="1846.4" y1="680.0" x2="1846.4" y2="705.0" stroke="#000" stroke-width="5.0" stroke-linecap="butt"/>
<line x1="1825.9" y1="680.0" x2="1866.9" y2="680.0" stroke="#000" stroke-width="5.0" stroke-linecap="butt"/>
<line x1="1825.9" y1="705.0" x2="1866.9" y2="705.0" stroke="#000" stroke-width="5.0" stroke-linecap="butt"/>
<line x1="1970.1" y1="695.0" x2="1970.1" y2="730.0" stroke="#000" stroke-width="5.0" stroke-linecap="butt"/>
<line x1="1949.6" y1="695.0" x2="1990.6" y2="695.0" stroke="#000" stroke-width="5.0" stroke-linecap="butt"/>
<line x1="1949.6" y1="730.0" x2="1990.6" y2="730.0" stroke="#000" stroke-width="5.0" stroke-linecap="butt"/>
<line x1="2093.8" y1="692.5" x2="2093.8" y2="710.0" stroke="#000" stroke-width="5.0" stroke-linecap="butt"/>
<line x1="2073.3" y1="692.5" x2="2114.3" y2="692.5" stroke="#000" stroke-width="5.0" stroke-linecap="butt"/>
<line x1="2073.3" y1="710.0" x2="2114.3" y2="710.0" stroke="#000" stroke-width="5.0" stroke-linecap="butt"/>
<line x1="2217.5" y1="728.5" x2="2217.5" y2="745.0" stroke="#000" stroke-width="5.0" stroke-linecap="butt"/>
<line x1="2197.0" y1="728.5" x2="2238.0" y2="728.5" stroke="#000" stroke-width="5.0" stroke-linecap="butt"/>
<line x1="2197.0" y1="745.0" x2="2238.0" y2="745.0" stroke="#000" stroke-width="5.0" stroke-linecap="butt"/>
<circle cx="1599.5" cy="424.5" r="8.3"/>
<circle cx="1611.0" cy="482.0" r="8.3"/>
<circle cx="1588.0" cy="487.5" r="8.3"/>
<circle cx="1566.0" cy="524.0" r="8.3"/>
<circle cx="1632.5" cy="531.0" r="8.3"/>
<circle cx="1588.0" cy="530.5" r="8.3"/>
<circle cx="1610.0" cy="531.5" r="8.3"/>
<circle cx="1599.5" cy="551.0" r="8.3"/>
<circle cx="1611.0" cy="586.0" r="8.3"/>
<circle cx="1588.0" cy="595.0" r="8.3"/>
<circle cx="1723.0" cy="316.0" r="8.3"/>
<circle cx="1723.0" cy="513.5" r="8.3"/>
<circle cx="1738.5" cy="558.0" r="8.3"/>
<circle cx="1706.5" cy="566.0" r="8.3"/>
<circle cx="1738.5" cy="589.0" r="8.3"/>
<circle cx="1706.5" cy="594.0" r="8.3"/>
<circle cx="1723.0" cy="610.5" r="8.3"/>
<circle cx="1706.5" cy="630.5" r="8.3"/>
<circle cx="1738.5" cy="635.5" r="8.3"/>
<circle cx="1723.0" cy="652.0" r="8.3"/>
<circle cx="1813.0" cy="633.0" r="8.3"/>
<circle cx="1846.0" cy="646.0" r="8.3"/>
<circle cx="1813.0" cy="672.0" r="8.3"/>
<circle cx="1846.0" cy="676.0" r="8.3"/>
<circle cx="1880.0" cy="687.5" r="8.3"/>
<circle cx="1846.0" cy="700.0" r="8.3"/>
<circle cx="1813.0" cy="705.0" r="8.3"/>
<circle cx="1880.0" cy="707.5" r="8.3"/>
<circle cx="1862.5" cy="742.5" r="8.3"/>
<circle cx="1829.0" cy="755.0" r="8.3"/>
<circle cx="1970.0" cy="637.5" r="8.3"/>
<circle cx="1959.0" cy="665.0" r="8.3"/>
<circle cx="1981.0" cy="675.0" r="8.3"/>
<circle cx="1959.0" cy="697.5" r="8.3"/>
<circle cx="1981.0" cy="700.0" r="8.3"/>
<circle cx="1970.0" cy="722.5" r="8.3"/>
<circle cx="2002.5" cy="752.5" r="8.3"/>
<circle cx="1959.0" cy="754.0" r="8.3"/>
<circle cx="1981.0" cy="755.0" r="8.3"/>
<circle cx="2060.5" cy="669.5" r="8.3"/>
<circle cx="2105.0" cy="662.5" r="8.3"/>
<circle cx="2082.5" cy="677.5" r="8.3"/>
<circle cx="2105.0" cy="682.5" r="8.3"/>
<circle cx="2082.5" cy="702.5" r="8.3"/>
<circle cx="2060.5" cy="710.0" r="8.3"/>
<circle cx="2082.5" cy="721.0" r="8.3"/>
<circle cx="2127.0" cy="720.5" r="8.3"/>
<circle cx="2060.5" cy="735.5" r="8.3"/>
<circle cx="2105.0" cy="735.5" r="8.3"/>
<circle cx="2211.0" cy="696.5" r="8.3"/>
<circle cx="2224.0" cy="708.0" r="8.3"/>
<circle cx="2211.0" cy="714.0" r="8.3"/>
<circle cx="2197.0" cy="739.0" r="8.3"/>
<circle cx="2184.5" cy="753.5" r="8.3"/>
<circle cx="2211.0" cy="750.5" r="8.3"/>
<circle cx="2223.5" cy="749.0" r="8.3"/>
<circle cx="2237.0" cy="755.5" r="8.3"/>
<circle cx="2251.0" cy="749.5" r="8.3"/>
<line x1="1495.5" y1="784.0" x2="2303.2" y2="784.0" stroke="#000" stroke-width="6.0" stroke-linecap="butt"/>
<line x1="1517.5" y1="787.0" x2="1517.5" y2="260.4" stroke="#000" stroke-width="5.3" stroke-linecap="butt"/>
<line x1="1599.0" y1="784.0" x2="1599.0" y2="806.0" stroke="#000" stroke-width="5.0" stroke-linecap="butt"/>
<line x1="1722.7" y1="784.0" x2="1722.7" y2="806.0" stroke="#000" stroke-width="5.0" stroke-linecap="butt"/>
<line x1="1846.4" y1="784.0" x2="1846.4" y2="806.0" stroke="#000" stroke-width="5.0" stroke-linecap="butt"/>
<line x1="1970.1" y1="784.0" x2="1970.1" y2="806.0" stroke="#000" stroke-width="5.0" stroke-linecap="butt"/>
<line x1="2093.8" y1="784.0" x2="2093.8" y2="806.0" stroke="#000" stroke-width="5.0" stroke-linecap="butt"/>
<line x1="2217.5" y1="784.0" x2="2217.5" y2="806.0" stroke="#000" stroke-width="5.0" stroke-linecap="butt"/>
<line x1="1495.5" y1="784.0" x2="1520.2" y2="784.0" stroke="#000" stroke-width="5.8" stroke-linecap="butt"/>
<line x1="1495.5" y1="610.4" x2="1520.2" y2="610.4" stroke="#000" stroke-width="5.8" stroke-linecap="butt"/>
<line x1="1495.5" y1="436.9" x2="1520.2" y2="436.9" stroke="#000" stroke-width="5.8" stroke-linecap="butt"/>
<line x1="1495.5" y1="263.3" x2="1520.2" y2="263.3" stroke="#000" stroke-width="5.8" stroke-linecap="butt"/>
<line x1="1546.4" y1="864.7" x2="1765.3" y2="864.7" stroke="#000" stroke-width="2.6" stroke-linecap="butt"/>
<line x1="1796.6" y1="866.5" x2="2015.9" y2="866.5" stroke="#000" stroke-width="2.6" stroke-linecap="butt"/>
<line x1="2043.2" y1="866.0" x2="2262.5" y2="866.0" stroke="#000" stroke-width="2.6" stroke-linecap="butt"/>
<line x1="1549.0" y1="940.7" x2="1767.8" y2="940.7" stroke="#000" stroke-width="3" stroke-linecap="butt"/>
<line x1="1800.1" y1="941.5" x2="2019.4" y2="941.5" stroke="#000" stroke-width="3" stroke-linecap="butt"/>
<line x1="2053.2" y1="939.0" x2="2270.5" y2="939.0" stroke="#000" stroke-width="3" stroke-linecap="butt"/>
<rect x="1560.8" y="1254.0" width="76.3" height="341.0" fill="#fff" stroke="#000" stroke-width="5.7"/>
<clipPath id="c16"><rect x="1684.5" y="1473.0" width="76.3" height="122.0"/></clipPath>
<rect x="1684.5" y="1473.0" width="76.3" height="122.0" fill="#000"/>
<path d="M1671.7 1479.6L1773.7 1377.6M1671.7 1505.5L1773.7 1403.5M1671.7 1531.4L1773.7 1429.4M1671.7 1557.2L1773.7 1455.2M1671.7 1583.2L1773.7 1481.2M1671.7 1609.1L1773.7 1507.1M1671.7 1635.0L1773.7 1533.0M1671.7 1660.9L1773.7 1558.9M1671.7 1686.8L1773.7 1584.8" stroke="#fff" stroke-width="8.49" fill="none" clip-path="url(#c16)"/>
<rect x="1684.5" y="1473.0" width="76.3" height="122.0" fill="none" stroke="#000" stroke-width="5.7"/>
<rect x="1808.2" y="1483.0" width="76.3" height="112.0" fill="#fff" stroke="#000" stroke-width="5.7"/>
<clipPath id="c17"><rect x="1931.9" y="1482.5" width="76.3" height="112.5"/></clipPath>
<rect x="1931.9" y="1482.5" width="76.3" height="112.5" fill="#000"/>
<path d="M1919.1 1489.1L2021.1 1387.1M1919.1 1515.0L2021.1 1413.0M1919.1 1540.9L2021.1 1438.9M1919.1 1566.8L2021.1 1464.8M1919.1 1592.7L2021.1 1490.7M1919.1 1618.6L2021.1 1516.6M1919.1 1644.5L2021.1 1542.5M1919.1 1670.4L2021.1 1568.4M1919.1 1696.2L2021.1 1594.2" stroke="#fff" stroke-width="8.49" fill="none" clip-path="url(#c17)"/>
<rect x="1931.9" y="1482.5" width="76.3" height="112.5" fill="none" stroke="#000" stroke-width="5.7"/>
<rect x="2055.7" y="1472.5" width="76.3" height="122.5" fill="#fff" stroke="#000" stroke-width="5.7"/>
<clipPath id="c18"><rect x="2179.3" y="1488.5" width="76.3" height="106.5"/></clipPath>
<rect x="2179.3" y="1488.5" width="76.3" height="106.5" fill="#000"/>
<path d="M2166.5 1484.2L2268.5 1382.2M2166.5 1510.1L2268.5 1408.1M2166.5 1536.0L2268.5 1434.0M2166.5 1561.9L2268.5 1459.9M2166.5 1587.8L2268.5 1485.8M2166.5 1613.7L2268.5 1511.7M2166.5 1639.6L2268.5 1537.6M2166.5 1665.5L2268.5 1563.5M2166.5 1691.4L2268.5 1589.4" stroke="#fff" stroke-width="10.18" fill="none" clip-path="url(#c18)"/>
<rect x="2179.3" y="1488.5" width="76.3" height="106.5" fill="none" stroke="#000" stroke-width="5.7"/>
<line x1="1599.0" y1="1226.0" x2="1599.0" y2="1274.0" stroke="#000" stroke-width="5.0" stroke-linecap="butt"/>
<line x1="1578.5" y1="1226.0" x2="1619.5" y2="1226.0" stroke="#000" stroke-width="5.0" stroke-linecap="butt"/>
<line x1="1578.5" y1="1274.0" x2="1619.5" y2="1274.0" stroke="#000" stroke-width="5.0" stroke-linecap="butt"/>
<line x1="1722.7" y1="1456.0" x2="1722.7" y2="1485.0" stroke="#000" stroke-width="5.0" stroke-linecap="butt"/>
<line x1="1702.2" y1="1456.0" x2="1743.2" y2="1456.0" stroke="#000" stroke-width="5.0" stroke-linecap="butt"/>
<line x1="1702.2" y1="1485.0" x2="1743.2" y2="1485.0" stroke="#000" stroke-width="5.0" stroke-linecap="butt"/>
<line x1="1846.4" y1="1461.5" x2="1846.4" y2="1497.5" stroke="#000" stroke-width="5.0" stroke-linecap="butt"/>
<line x1="1825.9" y1="1461.5" x2="1866.9" y2="1461.5" stroke="#000" stroke-width="5.0" stroke-linecap="butt"/>
<line x1="1825.9" y1="1497.5" x2="1866.9" y2="1497.5" stroke="#000" stroke-width="5.0" stroke-linecap="butt"/>
<line x1="1970.1" y1="1467.5" x2="1970.1" y2="1490.0" stroke="#000" stroke-width="5.0" stroke-linecap="butt"/>
<line x1="1949.6" y1="1467.5" x2="1990.6" y2="1467.5" stroke="#000" stroke-width="5.0" stroke-linecap="butt"/>
<line x1="1949.6" y1="1490.0" x2="1990.6" y2="1490.0" stroke="#000" stroke-width="5.0" stroke-linecap="butt"/>
<line x1="2093.8" y1="1460.0" x2="2093.8" y2="1480.0" stroke="#000" stroke-width="5.0" stroke-linecap="butt"/>
<line x1="2073.3" y1="1460.0" x2="2114.3" y2="1460.0" stroke="#000" stroke-width="5.0" stroke-linecap="butt"/>
<line x1="2073.3" y1="1480.0" x2="2114.3" y2="1480.0" stroke="#000" stroke-width="5.0" stroke-linecap="butt"/>
<line x1="2217.5" y1="1466.0" x2="2217.5" y2="1505.0" stroke="#000" stroke-width="5.0" stroke-linecap="butt"/>
<line x1="2197.0" y1="1466.0" x2="2238.0" y2="1466.0" stroke="#000" stroke-width="5.0" stroke-linecap="butt"/>
<line x1="2197.0" y1="1505.0" x2="2238.0" y2="1505.0" stroke="#000" stroke-width="5.0" stroke-linecap="butt"/>
<circle cx="1599.0" cy="1140.0" r="8.3"/>
<circle cx="1599.0" cy="1188.0" r="8.3"/>
<circle cx="1599.0" cy="1207.5" r="8.3"/>
<circle cx="1566.0" cy="1236.0" r="8.3"/>
<circle cx="1632.5" cy="1232.5" r="8.3"/>
<circle cx="1599.0" cy="1227.5" r="8.3"/>
<circle cx="1599.0" cy="1246.0" r="8.3"/>
<circle cx="1599.0" cy="1287.5" r="8.3"/>
<circle cx="1599.0" cy="1325.0" r="8.3"/>
<circle cx="1599.0" cy="1414.0" r="8.3"/>
<circle cx="1722.5" cy="1397.0" r="8.3"/>
<circle cx="1722.5" cy="1421.5" r="8.3"/>
<circle cx="1722.5" cy="1442.0" r="8.3"/>
<circle cx="1722.5" cy="1461.5" r="8.3"/>
<circle cx="1756.5" cy="1465.0" r="8.3"/>
<circle cx="1690.0" cy="1491.5" r="8.3"/>
<circle cx="1722.5" cy="1505.5" r="8.3"/>
<circle cx="1756.5" cy="1504.0" r="8.3"/>
<circle cx="1722.5" cy="1530.5" r="8.3"/>
<circle cx="1722.5" cy="1480.0" r="8.3"/>
<circle cx="1846.0" cy="1367.5" r="8.3"/>
<circle cx="1846.0" cy="1409.0" r="8.3"/>
<circle cx="1857.5" cy="1450.0" r="8.3"/>
<circle cx="1834.0" cy="1461.5" r="8.3"/>
<circle cx="1834.0" cy="1497.5" r="8.3"/>
<circle cx="1880.0" cy="1508.5" r="8.3"/>
<circle cx="1857.5" cy="1507.5" r="8.3"/>
<circle cx="1835.0" cy="1517.5" r="8.3"/>
<circle cx="1857.5" cy="1527.5" r="8.3"/>
<circle cx="1846.0" cy="1550.0" r="8.3"/>
<circle cx="1952.5" cy="1437.5" r="8.3"/>
<circle cx="1986.5" cy="1437.5" r="8.3"/>
<circle cx="1970.0" cy="1453.5" r="8.3"/>
<circle cx="1936.5" cy="1459.0" r="8.3"/>
<circle cx="2003.5" cy="1467.5" r="8.3"/>
<circle cx="1936.5" cy="1477.5" r="8.3"/>
<circle cx="1970.0" cy="1498.0" r="8.3"/>
<circle cx="2003.5" cy="1488.0" r="8.3"/>
<circle cx="1953.0" cy="1540.5" r="8.3"/>
<circle cx="1986.0" cy="1541.0" r="8.3"/>
<circle cx="2113.5" cy="1415.0" r="8.3"/>
<circle cx="2100.0" cy="1424.0" r="8.3"/>
<circle cx="2086.5" cy="1429.0" r="8.3"/>
<circle cx="2087.5" cy="1477.5" r="8.3"/>
<circle cx="2073.5" cy="1489.5" r="8.3"/>
<circle cx="2060.0" cy="1496.5" r="8.3"/>
<circle cx="2086.5" cy="1494.0" r="8.3"/>
<circle cx="2100.0" cy="1493.5" r="8.3"/>
<circle cx="2113.5" cy="1498.0" r="8.3"/>
<circle cx="2127.5" cy="1493.5" r="8.3"/>
<circle cx="2217.5" cy="1397.5" r="8.3"/>
<circle cx="2217.5" cy="1421.0" r="8.3"/>
<circle cx="2184.0" cy="1438.5" r="8.3"/>
<circle cx="2217.5" cy="1443.0" r="8.3"/>
<circle cx="2250.0" cy="1477.5" r="8.3"/>
<circle cx="2184.0" cy="1487.5" r="8.3"/>
<circle cx="2217.5" cy="1497.5" r="8.3"/>
<circle cx="2184.0" cy="1567.5" r="8.3"/>
<circle cx="2217.5" cy="1564.0" r="8.3"/>
<circle cx="2250.0" cy="1567.5" r="8.3"/>
<line x1="1495.5" y1="1595.0" x2="2303.2" y2="1595.0" stroke="#000" stroke-width="6.0" stroke-linecap="butt"/>
<line x1="1517.5" y1="1598.0" x2="1517.5" y2="1069.9" stroke="#000" stroke-width="5.3" stroke-linecap="butt"/>
<line x1="1599.0" y1="1595.0" x2="1599.0" y2="1617.0" stroke="#000" stroke-width="5.0" stroke-linecap="butt"/>
<line x1="1722.7" y1="1595.0" x2="1722.7" y2="1617.0" stroke="#000" stroke-width="5.0" stroke-linecap="butt"/>
<line x1="1846.4" y1="1595.0" x2="1846.4" y2="1617.0" stroke="#000" stroke-width="5.0" stroke-linecap="butt"/>
<line x1="1970.1" y1="1595.0" x2="1970.1" y2="1617.0" stroke="#000" stroke-width="5.0" stroke-linecap="butt"/>
<line x1="2093.8" y1="1595.0" x2="2093.8" y2="1617.0" stroke="#000" stroke-width="5.0" stroke-linecap="butt"/>
<line x1="2217.5" y1="1595.0" x2="2217.5" y2="1617.0" stroke="#000" stroke-width="5.0" stroke-linecap="butt"/>
<line x1="1495.5" y1="1595.0" x2="1520.2" y2="1595.0" stroke="#000" stroke-width="5.8" stroke-linecap="butt"/>
<line x1="1495.5" y1="1464.5" x2="1520.2" y2="1464.5" stroke="#000" stroke-width="5.8" stroke-linecap="butt"/>
<line x1="1495.5" y1="1333.9" x2="1520.2" y2="1333.9" stroke="#000" stroke-width="5.8" stroke-linecap="butt"/>
<line x1="1495.5" y1="1203.3" x2="1520.2" y2="1203.3" stroke="#000" stroke-width="5.8" stroke-linecap="butt"/>
<line x1="1495.5" y1="1072.8" x2="1520.2" y2="1072.8" stroke="#000" stroke-width="5.8" stroke-linecap="butt"/>
<line x1="1546.4" y1="1675.7" x2="1765.3" y2="1675.7" stroke="#000" stroke-width="2.6" stroke-linecap="butt"/>
<line x1="1796.6" y1="1677.5" x2="2015.9" y2="1677.5" stroke="#000" stroke-width="2.6" stroke-linecap="butt"/>
<line x1="2043.2" y1="1677.0" x2="2262.5" y2="1677.0" stroke="#000" stroke-width="2.6" stroke-linecap="butt"/>
<line x1="1549.0" y1="1751.7" x2="1767.8" y2="1751.7" stroke="#000" stroke-width="3" stroke-linecap="butt"/>
<line x1="1800.1" y1="1752.5" x2="2019.4" y2="1752.5" stroke="#000" stroke-width="3" stroke-linecap="butt"/>
<line x1="2053.2" y1="1750.0" x2="2270.5" y2="1750.0" stroke="#000" stroke-width="3" stroke-linecap="butt"/>
<rect x="1560.8" y="2093.2" width="76.3" height="319.2" fill="#fff" stroke="#000" stroke-width="5.7"/>
<clipPath id="c19"><rect x="1684.5" y="2146.2" width="76.3" height="266.2"/></clipPath>
<rect x="1684.5" y="2146.2" width="76.3" height="266.2" fill="#000"/>
<path d="M1671.7 2152.8L1773.7 2050.8M1671.7 2178.7L1773.7 2076.7M1671.7 2204.6L1773.7 2102.6M1671.7 2230.5L1773.7 2128.5M1671.7 2256.4L1773.7 2154.4M1671.7 2282.3L1773.7 2180.3M1671.7 2308.2L1773.7 2206.2M1671.7 2334.1L1773.7 2232.1M1671.7 2360.0L1773.7 2258.0M1671.7 2385.9L1773.7 2283.9M1671.7 2411.8L1773.7 2309.8M1671.7 2437.7L1773.7 2335.7M1671.7 2463.6L1773.7 2361.6M1671.7 2489.5L1773.7 2387.5M1671.7 2515.4L1773.7 2413.4" stroke="#fff" stroke-width="8.49" fill="none" clip-path="url(#c19)"/>
<rect x="1684.5" y="2146.2" width="76.3" height="266.2" fill="none" stroke="#000" stroke-width="5.7"/>
<rect x="1808.2" y="2284.2" width="76.3" height="128.2" fill="#fff" stroke="#000" stroke-width="5.7"/>
<clipPath id="c20"><rect x="1931.9" y="2271.8" width="76.3" height="140.8"/></clipPath>
<rect x="1931.9" y="2271.8" width="76.3" height="140.8" fill="#000"/>
<path d="M1919.1 2278.3L2021.1 2176.3M1919.1 2304.2L2021.1 2202.2M1919.1 2330.1L2021.1 2228.1M1919.1 2356.0L2021.1 2254.0M1919.1 2381.9L2021.1 2279.9M1919.1 2407.8L2021.1 2305.8M1919.1 2433.7L2021.1 2331.7M1919.1 2459.6L2021.1 2357.6M1919.1 2485.5L2021.1 2383.5M1919.1 2511.4L2021.1 2409.4" stroke="#fff" stroke-width="8.49" fill="none" clip-path="url(#c20)"/>
<rect x="1931.9" y="2271.8" width="76.3" height="140.8" fill="none" stroke="#000" stroke-width="5.7"/>
<rect x="2055.7" y="2252.8" width="76.3" height="159.8" fill="#fff" stroke="#000" stroke-width="5.7"/>
<clipPath id="c21"><rect x="2179.3" y="2295.2" width="76.3" height="117.2"/></clipPath>
<rect x="2179.3" y="2295.2" width="76.3" height="117.2" fill="#000"/>
<path d="M2166.5 2290.9L2268.5 2188.9M2166.5 2316.8L2268.5 2214.8M2166.5 2342.7L2268.5 2240.7M2166.5 2368.6L2268.5 2266.6M2166.5 2394.5L2268.5 2292.5M2166.5 2420.4L2268.5 2318.4M2166.5 2446.3L2268.5 2344.3M2166.5 2472.2L2268.5 2370.2M2166.5 2498.1L2268.5 2396.1" stroke="#fff" stroke-width="10.18" fill="none" clip-path="url(#c21)"/>
<rect x="2179.3" y="2295.2" width="76.3" height="117.2" fill="none" stroke="#000" stroke-width="5.7"/>
<line x1="1599.0" y1="2062.5" x2="1599.0" y2="2121.0" stroke="#000" stroke-width="5.0" stroke-linecap="butt"/>
<line x1="1578.5" y1="2062.5" x2="1619.5" y2="2062.5" stroke="#000" stroke-width="5.0" stroke-linecap="butt"/>
<line x1="1578.5" y1="2121.0" x2="1619.5" y2="2121.0" stroke="#000" stroke-width="5.0" stroke-linecap="butt"/>
<line x1="1722.7" y1="2111.5" x2="1722.7" y2="2175.0" stroke="#000" stroke-width="5.0" stroke-linecap="butt"/>
<line x1="1702.2" y1="2111.5" x2="1743.2" y2="2111.5" stroke="#000" stroke-width="5.0" stroke-linecap="butt"/>
<line x1="1702.2" y1="2175.0" x2="1743.2" y2="2175.0" stroke="#000" stroke-width="5.0" stroke-linecap="butt"/>
<line x1="1846.4" y1="2264.0" x2="1846.4" y2="2300.0" stroke="#000" stroke-width="5.0" stroke-linecap="butt"/>
<line x1="1825.9" y1="2264.0" x2="1866.9" y2="2264.0" stroke="#000" stroke-width="5.0" stroke-linecap="butt"/>
<line x1="1825.9" y1="2300.0" x2="1866.9" y2="2300.0" stroke="#000" stroke-width="5.0" stroke-linecap="butt"/>
<line x1="1970.1" y1="2257.5" x2="1970.1" y2="2282.5" stroke="#000" stroke-width="5.0" stroke-linecap="butt"/>
<line x1="1949.6" y1="2257.5" x2="1990.6" y2="2257.5" stroke="#000" stroke-width="5.0" stroke-linecap="butt"/>
<line x1="1949.6" y1="2282.5" x2="1990.6" y2="2282.5" stroke="#000" stroke-width="5.0" stroke-linecap="butt"/>
<line x1="2093.8" y1="2231.0" x2="2093.8" y2="2270.0" stroke="#000" stroke-width="5.0" stroke-linecap="butt"/>
<line x1="2073.3" y1="2231.0" x2="2114.3" y2="2231.0" stroke="#000" stroke-width="5.0" stroke-linecap="butt"/>
<line x1="2073.3" y1="2270.0" x2="2114.3" y2="2270.0" stroke="#000" stroke-width="5.0" stroke-linecap="butt"/>
<line x1="2217.5" y1="2275.0" x2="2217.5" y2="2315.0" stroke="#000" stroke-width="5.0" stroke-linecap="butt"/>
<line x1="2197.0" y1="2275.0" x2="2238.0" y2="2275.0" stroke="#000" stroke-width="5.0" stroke-linecap="butt"/>
<line x1="2197.0" y1="2315.0" x2="2238.0" y2="2315.0" stroke="#000" stroke-width="5.0" stroke-linecap="butt"/>
<circle cx="1599.0" cy="1957.5" r="8.3"/>
<circle cx="1599.0" cy="2008.0" r="8.3"/>
<circle cx="1599.0" cy="2031.5" r="8.3"/>
<circle cx="1599.0" cy="2062.5" r="8.3"/>
<circle cx="1599.0" cy="2078.5" r="8.3"/>
<circle cx="1599.0" cy="2120.0" r="8.3"/>
<circle cx="1599.0" cy="2150.0" r="8.3"/>
<circle cx="1615.0" cy="2206.0" r="8.3"/>
<circle cx="1584.0" cy="2212.5" r="8.3"/>
<circle cx="1723.0" cy="1996.0" r="8.3"/>
<circle cx="1723.0" cy="2063.5" r="8.3"/>
<circle cx="1723.0" cy="2093.5" r="8.3"/>
<circle cx="1690.0" cy="2125.0" r="8.3"/>
<circle cx="1756.5" cy="2134.0" r="8.3"/>
<circle cx="1723.0" cy="2136.0" r="8.3"/>
<circle cx="1723.0" cy="2176.0" r="8.3"/>
<circle cx="1723.0" cy="2250.0" r="8.3"/>
<circle cx="1723.0" cy="2314.0" r="8.3"/>
<circle cx="1846.0" cy="2190.0" r="8.3"/>
<circle cx="1846.0" cy="2247.5" r="8.3"/>
<circle cx="1846.0" cy="2264.0" r="8.3"/>
<circle cx="1830.0" cy="2285.0" r="8.3"/>
<circle cx="1862.5" cy="2297.5" r="8.3"/>
<circle cx="1830.0" cy="2301.5" r="8.3"/>
<circle cx="1862.5" cy="2331.5" r="8.3"/>
<circle cx="1830.0" cy="2346.0" r="8.3"/>
<circle cx="1970.0" cy="2198.5" r="8.3"/>
<circle cx="1954.0" cy="2252.5" r="8.3"/>
<circle cx="1986.5" cy="2251.5" r="8.3"/>
<circle cx="1954.0" cy="2274.0" r="8.3"/>
<circle cx="1986.5" cy="2285.0" r="8.3"/>
<circle cx="1954.0" cy="2292.5" r="8.3"/>
<circle cx="1986.5" cy="2299.0" r="8.3"/>
<circle cx="1954.0" cy="2312.5" r="8.3"/>
<circle cx="2077.5" cy="2174.0" r="8.3"/>
<circle cx="2110.0" cy="2175.0" r="8.3"/>
<circle cx="2093.5" cy="2198.5" r="8.3"/>
<circle cx="2093.5" cy="2242.5" r="8.3"/>
<circle cx="2077.5" cy="2267.5" r="8.3"/>
<circle cx="2110.0" cy="2272.5" r="8.3"/>
<circle cx="2093.5" cy="2291.0" r="8.3"/>
<circle cx="2110.0" cy="2316.5" r="8.3"/>
<circle cx="2077.5" cy="2320.0" r="8.3"/>
<circle cx="2217.5" cy="2186.0" r="8.3"/>
<circle cx="2201.0" cy="2265.0" r="8.3"/>
<circle cx="2233.5" cy="2272.5" r="8.3"/>
<circle cx="2201.0" cy="2285.0" r="8.3"/>
<circle cx="2233.5" cy="2291.0" r="8.3"/>
<circle cx="2217.5" cy="2342.5" r="8.3"/>
<circle cx="2233.5" cy="2357.5" r="8.3"/>
<circle cx="2201.0" cy="2366.0" r="8.3"/>
<line x1="1495.5" y1="2412.5" x2="2303.2" y2="2412.5" stroke="#000" stroke-width="6.0" stroke-linecap="butt"/>
<line x1="1517.5" y1="2415.5" x2="1517.5" y2="1888.4" stroke="#000" stroke-width="5.3" stroke-linecap="butt"/>
<line x1="1599.0" y1="2412.5" x2="1599.0" y2="2434.5" stroke="#000" stroke-width="5.0" stroke-linecap="butt"/>
<line x1="1722.7" y1="2412.5" x2="1722.7" y2="2434.5" stroke="#000" stroke-width="5.0" stroke-linecap="butt"/>
<line x1="1846.4" y1="2412.5" x2="1846.4" y2="2434.5" stroke="#000" stroke-width="5.0" stroke-linecap="butt"/>
<line x1="1970.1" y1="2412.5" x2="1970.1" y2="2434.5" stroke="#000" stroke-width="5.0" stroke-linecap="butt"/>
<line x1="2093.8" y1="2412.5" x2="2093.8" y2="2434.5" stroke="#000" stroke-width="5.0" stroke-linecap="butt"/>
<line x1="2217.5" y1="2412.5" x2="2217.5" y2="2434.5" stroke="#000" stroke-width="5.0" stroke-linecap="butt"/>
<line x1="1495.5" y1="2412.5" x2="1520.2" y2="2412.5" stroke="#000" stroke-width="5.8" stroke-linecap="butt"/>
<line x1="1495.5" y1="2308.3" x2="1520.2" y2="2308.3" stroke="#000" stroke-width="5.8" stroke-linecap="butt"/>
<line x1="1495.5" y1="2204.0" x2="1520.2" y2="2204.0" stroke="#000" stroke-width="5.8" stroke-linecap="butt"/>
<line x1="1495.5" y1="2099.8" x2="1520.2" y2="2099.8" stroke="#000" stroke-width="5.8" stroke-linecap="butt"/>
<line x1="1495.5" y1="1995.5" x2="1520.2" y2="1995.5" stroke="#000" stroke-width="5.8" stroke-linecap="butt"/>
<line x1="1495.5" y1="1891.3" x2="1520.2" y2="1891.3" stroke="#000" stroke-width="5.8" stroke-linecap="butt"/>
<line x1="1546.4" y1="2493.2" x2="1765.3" y2="2493.2" stroke="#000" stroke-width="2.6" stroke-linecap="butt"/>
<line x1="1796.6" y1="2495.0" x2="2015.9" y2="2495.0" stroke="#000" stroke-width="2.6" stroke-linecap="butt"/>
<line x1="2043.2" y1="2494.5" x2="2262.5" y2="2494.5" stroke="#000" stroke-width="2.6" stroke-linecap="butt"/>
<line x1="1549.0" y1="2569.2" x2="1767.8" y2="2569.2" stroke="#000" stroke-width="3" stroke-linecap="butt"/>
<line x1="1800.1" y1="2570.0" x2="2019.4" y2="2570.0" stroke="#000" stroke-width="3" stroke-linecap="butt"/>
<line x1="2053.2" y1="2567.5" x2="2270.5" y2="2567.5" stroke="#000" stroke-width="3" stroke-linecap="butt"/>
<rect x="1560.8" y="2899.2" width="76.3" height="331.3" fill="#fff" stroke="#000" stroke-width="5.7"/>
<clipPath id="c22"><rect x="1684.5" y="3043.5" width="76.3" height="187.1"/></clipPath>
<rect x="1684.5" y="3043.5" width="76.3" height="187.1" fill="#000"/>
<path d="M1671.7 3050.1L1773.7 2948.1M1671.7 3076.0L1773.7 2974.0M1671.7 3101.8L1773.7 2999.8M1671.7 3127.8L1773.7 3025.8M1671.7 3153.7L1773.7 3051.7M1671.7 3179.6L1773.7 3077.6M1671.7 3205.5L1773.7 3103.5M1671.7 3231.3L1773.7 3129.3M1671.7 3257.2L1773.7 3155.2M1671.7 3283.2L1773.7 3181.2M1671.7 3309.1L1773.7 3207.1" stroke="#fff" stroke-width="8.49" fill="none" clip-path="url(#c22)"/>
<rect x="1684.5" y="3043.5" width="76.3" height="187.1" fill="none" stroke="#000" stroke-width="5.7"/>
<rect x="1808.2" y="3106.0" width="76.3" height="124.6" fill="#fff" stroke="#000" stroke-width="5.7"/>
<clipPath id="c23"><rect x="1931.9" y="3110.0" width="76.3" height="120.6"/></clipPath>
<rect x="1931.9" y="3110.0" width="76.3" height="120.6" fill="#000"/>
<path d="M1919.1 3116.6L2021.1 3014.6M1919.1 3142.5L2021.1 3040.5M1919.1 3168.3L2021.1 3066.3M1919.1 3194.2L2021.1 3092.2M1919.1 3220.2L2021.1 3118.2M1919.1 3246.1L2021.1 3144.1M1919.1 3272.0L2021.1 3170.0M1919.1 3297.8L2021.1 3195.8M1919.1 3323.8L2021.1 3221.8" stroke="#fff" stroke-width="8.49" fill="none" clip-path="url(#c23)"/>
<rect x="1931.9" y="3110.0" width="76.3" height="120.6" fill="none" stroke="#000" stroke-width="5.7"/>
<rect x="2055.7" y="3107.5" width="76.3" height="123.1" fill="#fff" stroke="#000" stroke-width="5.7"/>
<clipPath id="c24"><rect x="2179.3" y="3091.0" width="76.3" height="139.6"/></clipPath>
<rect x="2179.3" y="3091.0" width="76.3" height="139.6" fill="#000"/>
<path d="M2166.5 3086.7L2268.5 2984.7M2166.5 3112.6L2268.5 3010.6M2166.5 3138.5L2268.5 3036.5M2166.5 3164.3L2268.5 3062.3M2166.5 3190.2L2268.5 3088.2M2166.5 3216.2L2268.5 3114.2M2166.5 3242.1L2268.5 3140.1M2166.5 3268.0L2268.5 3166.0M2166.5 3293.8L2268.5 3191.8M2166.5 3319.8L2268.5 3217.8" stroke="#fff" stroke-width="10.18" fill="none" clip-path="url(#c24)"/>
<rect x="2179.3" y="3091.0" width="76.3" height="139.6" fill="none" stroke="#000" stroke-width="5.7"/>
<line x1="1599.0" y1="2872.5" x2="1599.0" y2="2920.0" stroke="#000" stroke-width="5.0" stroke-linecap="butt"/>
<line x1="1578.5" y1="2872.5" x2="1619.5" y2="2872.5" stroke="#000" stroke-width="5.0" stroke-linecap="butt"/>
<line x1="1578.5" y1="2920.0" x2="1619.5" y2="2920.0" stroke="#000" stroke-width="5.0" stroke-linecap="butt"/>
<line x1="1722.7" y1="3010.0" x2="1722.7" y2="3070.0" stroke="#000" stroke-width="5.0" stroke-linecap="butt"/>
<line x1="1702.2" y1="3010.0" x2="1743.2" y2="3010.0" stroke="#000" stroke-width="5.0" stroke-linecap="butt"/>
<line x1="1702.2" y1="3070.0" x2="1743.2" y2="3070.0" stroke="#000" stroke-width="5.0" stroke-linecap="butt"/>
<line x1="1846.4" y1="3080.0" x2="1846.4" y2="3126.0" stroke="#000" stroke-width="5.0" stroke-linecap="butt"/>
<line x1="1825.9" y1="3080.0" x2="1866.9" y2="3080.0" stroke="#000" stroke-width="5.0" stroke-linecap="butt"/>
<line x1="1825.9" y1="3126.0" x2="1866.9" y2="3126.0" stroke="#000" stroke-width="5.0" stroke-linecap="butt"/>
<line x1="1970.1" y1="3086.5" x2="1970.1" y2="3126.0" stroke="#000" stroke-width="5.0" stroke-linecap="butt"/>
<line x1="1949.6" y1="3086.5" x2="1990.6" y2="3086.5" stroke="#000" stroke-width="5.0" stroke-linecap="butt"/>
<line x1="1949.6" y1="3126.0" x2="1990.6" y2="3126.0" stroke="#000" stroke-width="5.0" stroke-linecap="butt"/>
<line x1="2093.8" y1="3082.5" x2="2093.8" y2="3124.0" stroke="#000" stroke-width="5.0" stroke-linecap="butt"/>
<line x1="2073.3" y1="3082.5" x2="2114.3" y2="3082.5" stroke="#000" stroke-width="5.0" stroke-linecap="butt"/>
<line x1="2073.3" y1="3124.0" x2="2114.3" y2="3124.0" stroke="#000" stroke-width="5.0" stroke-linecap="butt"/>
<line x1="2217.5" y1="3069.0" x2="2217.5" y2="3107.5" stroke="#000" stroke-width="5.0" stroke-linecap="butt"/>
<line x1="2197.0" y1="3069.0" x2="2238.0" y2="3069.0" stroke="#000" stroke-width="5.0" stroke-linecap="butt"/>
<line x1="2197.0" y1="3107.5" x2="2238.0" y2="3107.5" stroke="#000" stroke-width="5.0" stroke-linecap="butt"/>
<circle cx="1599.0" cy="2801.0" r="8.3"/>
<circle cx="1599.0" cy="2817.5" r="8.3"/>
<circle cx="1584.0" cy="2841.5" r="8.3"/>
<circle cx="1615.0" cy="2841.5" r="8.3"/>
<circle cx="1599.0" cy="2856.5" r="8.3"/>
<circle cx="1584.0" cy="2928.5" r="8.3"/>
<circle cx="1615.0" cy="2936.0" r="8.3"/>
<circle cx="1584.0" cy="2958.5" r="8.3"/>
<circle cx="1615.0" cy="2971.5" r="8.3"/>
<circle cx="1599.0" cy="3021.0" r="8.3"/>
<circle cx="1723.0" cy="2891.5" r="8.3"/>
<circle cx="1723.0" cy="2949.0" r="8.3"/>
<circle cx="1723.0" cy="2969.0" r="8.3"/>
<circle cx="1723.0" cy="2991.0" r="8.3"/>
<circle cx="1723.0" cy="3012.5" r="8.3"/>
<circle cx="1723.0" cy="3055.0" r="8.3"/>
<circle cx="1723.0" cy="3084.0" r="8.3"/>
<circle cx="1723.0" cy="3100.0" r="8.3"/>
<circle cx="1738.5" cy="3167.5" r="8.3"/>
<circle cx="1706.5" cy="3182.5" r="8.3"/>
<circle cx="1862.5" cy="2981.0" r="8.3"/>
<circle cx="1830.0" cy="2992.5" r="8.3"/>
<circle cx="1813.0" cy="3084.0" r="8.3"/>
<circle cx="1846.0" cy="3091.5" r="8.3"/>
<circle cx="1813.0" cy="3099.0" r="8.3"/>
<circle cx="1813.0" cy="3136.0" r="8.3"/>
<circle cx="1846.0" cy="3135.0" r="8.3"/>
<circle cx="1880.0" cy="3139.0" r="8.3"/>
<circle cx="1862.5" cy="3186.5" r="8.3"/>
<circle cx="1830.0" cy="3196.5" r="8.3"/>
<circle cx="1986.5" cy="3009.0" r="8.3"/>
<circle cx="1954.0" cy="3015.0" r="8.3"/>
<circle cx="1936.5" cy="3076.5" r="8.3"/>
<circle cx="2003.5" cy="3086.0" r="8.3"/>
<circle cx="1970.0" cy="3096.0" r="8.3"/>
<circle cx="1970.0" cy="3117.5" r="8.3"/>
<circle cx="1970.0" cy="3154.0" r="8.3"/>
<circle cx="1970.0" cy="3170.0" r="8.3"/>
<circle cx="2003.5" cy="3172.5" r="8.3"/>
<circle cx="1940.0" cy="3175.0" r="8.3"/>
<circle cx="2093.5" cy="2991.0" r="8.3"/>
<circle cx="2082.5" cy="3029.0" r="8.3"/>
<circle cx="2105.0" cy="3041.5" r="8.3"/>
<circle cx="2104.5" cy="3110.0" r="8.3"/>
<circle cx="2060.5" cy="3125.0" r="8.3"/>
<circle cx="2081.5" cy="3119.0" r="8.3"/>
<circle cx="2104.5" cy="3130.0" r="8.3"/>
<circle cx="2127.0" cy="3121.5" r="8.3"/>
<circle cx="2093.0" cy="3166.0" r="8.3"/>
<circle cx="2093.0" cy="3208.5" r="8.3"/>
<circle cx="2201.0" cy="3001.5" r="8.3"/>
<circle cx="2233.5" cy="3011.0" r="8.3"/>
<circle cx="2201.0" cy="3051.0" r="8.3"/>
<circle cx="2233.0" cy="3051.0" r="8.3"/>
<circle cx="2233.0" cy="3090.0" r="8.3"/>
<circle cx="2200.5" cy="3097.5" r="8.3"/>
<circle cx="2217.0" cy="3116.5" r="8.3"/>
<circle cx="2217.0" cy="3140.5" r="8.3"/>
<circle cx="2233.0" cy="3162.0" r="8.3"/>
<circle cx="2200.5" cy="3169.5" r="8.3"/>
<line x1="1495.5" y1="3230.6" x2="2303.2" y2="3230.6" stroke="#000" stroke-width="6.0" stroke-linecap="butt"/>
<line x1="1517.5" y1="3233.6" x2="1517.5" y2="2705.8" stroke="#000" stroke-width="5.3" stroke-linecap="butt"/>
<line x1="1599.0" y1="3230.6" x2="1599.0" y2="3252.6" stroke="#000" stroke-width="5.0" stroke-linecap="butt"/>
<line x1="1722.7" y1="3230.6" x2="1722.7" y2="3252.6" stroke="#000" stroke-width="5.0" stroke-linecap="butt"/>
<line x1="1846.4" y1="3230.6" x2="1846.4" y2="3252.6" stroke="#000" stroke-width="5.0" stroke-linecap="butt"/>
<line x1="1970.1" y1="3230.6" x2="1970.1" y2="3252.6" stroke="#000" stroke-width="5.0" stroke-linecap="butt"/>
<line x1="2093.8" y1="3230.6" x2="2093.8" y2="3252.6" stroke="#000" stroke-width="5.0" stroke-linecap="butt"/>
<line x1="2217.5" y1="3230.6" x2="2217.5" y2="3252.6" stroke="#000" stroke-width="5.0" stroke-linecap="butt"/>
<line x1="1495.5" y1="3230.6" x2="1520.2" y2="3230.6" stroke="#000" stroke-width="5.8" stroke-linecap="butt"/>
<line x1="1495.5" y1="3126.2" x2="1520.2" y2="3126.2" stroke="#000" stroke-width="5.8" stroke-linecap="butt"/>
<line x1="1495.5" y1="3021.8" x2="1520.2" y2="3021.8" stroke="#000" stroke-width="5.8" stroke-linecap="butt"/>
<line x1="1495.5" y1="2917.5" x2="1520.2" y2="2917.5" stroke="#000" stroke-width="5.8" stroke-linecap="butt"/>
<line x1="1495.5" y1="2813.1" x2="1520.2" y2="2813.1" stroke="#000" stroke-width="5.8" stroke-linecap="butt"/>
<line x1="1495.5" y1="2708.7" x2="1520.2" y2="2708.7" stroke="#000" stroke-width="5.8" stroke-linecap="butt"/>
<line x1="1546.4" y1="3311.3" x2="1765.3" y2="3311.3" stroke="#000" stroke-width="2.6" stroke-linecap="butt"/>
<line x1="1796.6" y1="3313.1" x2="2015.9" y2="3313.1" stroke="#000" stroke-width="2.6" stroke-linecap="butt"/>
<line x1="2043.2" y1="3312.6" x2="2262.5" y2="3312.6" stroke="#000" stroke-width="2.6" stroke-linecap="butt"/>
<line x1="1549.0" y1="3387.3" x2="1767.8" y2="3387.3" stroke="#000" stroke-width="3" stroke-linecap="butt"/>
<line x1="1800.1" y1="3388.1" x2="2019.4" y2="3388.1" stroke="#000" stroke-width="3" stroke-linecap="butt"/>
<line x1="2053.2" y1="3385.6" x2="2270.5" y2="3385.6" stroke="#000" stroke-width="3" stroke-linecap="butt"/>
<line x1="510.0" y1="139.3" x2="1198.0" y2="139.3" stroke="#000" stroke-width="13" stroke-linecap="butt"/>
<line x1="1543.4" y1="140.3" x2="2255.8" y2="140.3" stroke="#000" stroke-width="12.5" stroke-linecap="butt"/>
<line x1="150.7" y1="255.0" x2="150.7" y2="1570.0" stroke="#000" stroke-width="10" stroke-linecap="butt"/>
<line x1="151.7" y1="1874.3" x2="151.7" y2="3234.3" stroke="#000" stroke-width="10.5" stroke-linecap="butt"/>
<line x1="292.5" y1="261.7" x2="292.5" y2="786.7" stroke="#000" stroke-width="10.3" stroke-linecap="butt"/>
<line x1="293.7" y1="1068.3" x2="293.7" y2="1592.7" stroke="#000" stroke-width="10.5" stroke-linecap="butt"/>
<line x1="291.3" y1="1881.7" x2="291.3" y2="2406.0" stroke="#000" stroke-width="10.5" stroke-linecap="butt"/>
<line x1="289.0" y1="2709.7" x2="289.0" y2="3234.3" stroke="#000" stroke-width="10.8" stroke-linecap="butt"/>
<text transform="translate(414.0,805.5) scale(0.9850,1)" font-size="65">0</text>
<text transform="translate(415.0,632.7) scale(0.9850,1)" font-size="65">1</text>
<text transform="translate(415.0,460.0) scale(0.9850,1)" font-size="65">2</text>
<text transform="translate(414.0,287.2) scale(0.9850,1)" font-size="65">3</text>
<text transform="translate(381.7,602.4) rotate(-90)" font-size="66">pg/mL</text>
<text x="541.0" y="321.0" font-size="57">a</text>
<text x="663.5" y="283.0" font-size="57">a</text>
<text x="786.5" y="371.5" font-size="57">a</text>
<text x="909.5" y="356.5" font-size="57">a</text>
<text x="1032.0" y="368.5" font-size="57">a</text>
<text x="1155.0" y="382.0" font-size="57">a</text>
<text x="478.0" y="222.7" font-size="72">(a)</text>
<text transform="translate(401.1,848.2) scale(0.9166,1)" font-size="52">Trx:</text>
<text transform="translate(349.4,924.0) scale(0.9445,1)" font-size="52">Geno:</text>
<text transform="translate(502.3,854.5) scale(0.9364,1)" font-size="52">CON</text>
<text transform="translate(640.1,859.0) scale(0.9606,1)" font-size="52">GW</text>
<text transform="translate(752.1,858.5) scale(0.9318,1)" font-size="52">CON</text>
<text transform="translate(890.6,859.5) scale(0.9491,1)" font-size="52">GW</text>
<text transform="translate(995.6,856.5) scale(0.9318,1)" font-size="52">CON</text>
<text transform="translate(1135.6,859.0) scale(0.9491,1)" font-size="52">GW</text>
<text transform="translate(515.4,926.6) scale(0.9479,1)" font-size="52">Wild-type</text>
<text transform="translate(755.1,926.0) scale(0.9337,1)" font-size="52"><tspan font-style="italic">Ppara</tspan>-null</text>
<text transform="translate(1012.5,922.5) scale(0.9690,1)" font-size="52" font-style="italic">hPPARA</text>
<text transform="translate(444.5,1612.5) scale(0.9850,1)" font-size="65">0</text>
<text transform="translate(408.9,1438.8) scale(0.9850,1)" font-size="65">10</text>
<text transform="translate(408.9,1265.2) scale(0.9850,1)" font-size="65">20</text>
<text transform="translate(408.9,1091.5) scale(0.9850,1)" font-size="65">30</text>
<text transform="translate(376.7,1408.0) rotate(-90)" font-size="66">pg/mL</text>
<text x="571.5" y="1123.0" font-size="57">a</text>
<text x="696.0" y="1332.0" font-size="57">b</text>
<text x="796.2" y="1270.0" font-size="57">a,b</text>
<text x="942.0" y="1124.0" font-size="57">a</text>
<text x="1043.7" y="1342.5" font-size="57">b,c</text>
<text x="1191.5" y="1397.0" font-size="57">c</text>
<text x="508.5" y="1027.0" font-size="72">(b)</text>
<text transform="translate(431.6,1655.2) scale(0.9166,1)" font-size="52">Trx:</text>
<text transform="translate(379.9,1731.0) scale(0.9445,1)" font-size="52">Geno:</text>
<text transform="translate(532.8,1661.5) scale(0.9364,1)" font-size="52">CON</text>
<text transform="translate(671.2,1666.0) scale(0.9606,1)" font-size="52">GW</text>
<text transform="translate(783.8,1665.5) scale(0.9318,1)" font-size="52">CON</text>
<text transform="translate(922.9,1666.5) scale(0.9491,1)" font-size="52">GW</text>
<text transform="translate(1028.5,1663.5) scale(0.9318,1)" font-size="52">CON</text>
<text transform="translate(1169.1,1666.0) scale(0.9491,1)" font-size="52">GW</text>
<text transform="translate(545.9,1733.6) scale(0.9479,1)" font-size="52">Wild-type</text>
<text transform="translate(786.8,1733.0) scale(0.9337,1)" font-size="52"><tspan font-style="italic">Ppara</tspan>-null</text>
<text transform="translate(1045.4,1729.5) scale(0.9690,1)" font-size="52" font-style="italic">hPPARA</text>
<text transform="translate(415.2,2434.0) scale(0.9850,1)" font-size="65">0</text>
<text transform="translate(416.2,2303.6) scale(0.9850,1)" font-size="65">1</text>
<text transform="translate(416.2,2173.2) scale(0.9850,1)" font-size="65">2</text>
<text transform="translate(415.2,2042.7) scale(0.9850,1)" font-size="65">3</text>
<text transform="translate(414.2,1912.3) scale(0.9850,1)" font-size="65">4</text>
<text transform="translate(382.7,2229.2) rotate(-90)" font-size="66">pg/mL</text>
<text x="542.5" y="2058.0" font-size="57">a</text>
<text x="644.2" y="2024.5" font-size="57">a,c</text>
<text x="767.7" y="2100.5" font-size="57">a,c</text>
<text x="891.2" y="2120.5" font-size="57">a,c</text>
<text x="1014.7" y="2050.0" font-size="57">a,c</text>
<text x="1135.2" y="2221.0" font-size="57">b,c</text>
<text x="479.2" y="1847.8" font-size="72">(c)</text>
<text transform="translate(402.3,2476.7) scale(0.9166,1)" font-size="52">Trx:</text>
<text transform="translate(350.6,2552.5) scale(0.9445,1)" font-size="52">Geno:</text>
<text transform="translate(503.3,2483.0) scale(0.9364,1)" font-size="52">CON</text>
<text transform="translate(641.7,2487.5) scale(0.9606,1)" font-size="52">GW</text>
<text transform="translate(754.3,2487.0) scale(0.9318,1)" font-size="52">CON</text>
<text transform="translate(893.4,2488.0) scale(0.9491,1)" font-size="52">GW</text>
<text transform="translate(999.0,2485.0) scale(0.9318,1)" font-size="52">CON</text>
<text transform="translate(1139.6,2487.5) scale(0.9491,1)" font-size="52">GW</text>
<text transform="translate(516.4,2555.1) scale(0.9479,1)" font-size="52">Wild-type</text>
<text transform="translate(757.3,2554.5) scale(0.9337,1)" font-size="52"><tspan font-style="italic">Ppara</tspan>-null</text>
<text transform="translate(1015.9,2551.0) scale(0.9690,1)" font-size="52" font-style="italic">hPPARA</text>
<text transform="translate(448.2,3253.0) scale(0.9850,1)" font-size="65">0</text>
<text transform="translate(412.6,3078.6) scale(0.9850,1)" font-size="65">10</text>
<text transform="translate(412.6,2904.2) scale(0.9850,1)" font-size="65">20</text>
<text transform="translate(412.6,2729.8) scale(0.9850,1)" font-size="65">30</text>
<text transform="translate(380.6,3047.4) rotate(-90)" font-size="66">pg/mL</text>
<text x="575.0" y="2771.5" font-size="57">a</text>
<text x="698.0" y="3064.5" font-size="57">b</text>
<text x="821.5" y="2846.0" font-size="57">a</text>
<text x="923.7" y="3019.5" font-size="57">b,c</text>
<text x="1047.2" y="3090.0" font-size="57">b,c</text>
<text x="1195.0" y="3118.0" font-size="57">c</text>
<text x="512.2" y="2665.3" font-size="72">(d)</text>
<text transform="translate(435.3,3295.7) scale(0.9166,1)" font-size="52">Trx:</text>
<text transform="translate(383.6,3371.5) scale(0.9445,1)" font-size="52">Geno:</text>
<text transform="translate(536.8,3302.0) scale(0.9364,1)" font-size="52">CON</text>
<text transform="translate(675.2,3306.5) scale(0.9606,1)" font-size="52">GW</text>
<text transform="translate(787.8,3306.0) scale(0.9318,1)" font-size="52">CON</text>
<text transform="translate(926.9,3307.0) scale(0.9491,1)" font-size="52">GW</text>
<text transform="translate(1032.5,3304.0) scale(0.9318,1)" font-size="52">CON</text>
<text transform="translate(1173.1,3306.5) scale(0.9491,1)" font-size="52">GW</text>
<text transform="translate(549.9,3374.1) scale(0.9479,1)" font-size="52">Wild-type</text>
<text transform="translate(790.8,3373.5) scale(0.9337,1)" font-size="52"><tspan font-style="italic">Ppara</tspan>-null</text>
<text transform="translate(1049.4,3370.0) scale(0.9690,1)" font-size="52" font-style="italic">hPPARA</text>
<text transform="translate(1454.0,805.5) scale(0.9850,1)" font-size="65">0</text>
<text transform="translate(1454.0,631.9) scale(0.9850,1)" font-size="65">5</text>
<text transform="translate(1418.4,458.4) scale(0.9850,1)" font-size="65">10</text>
<text transform="translate(1418.4,284.8) scale(0.9850,1)" font-size="65">15</text>
<text transform="translate(1385.5,601.1) rotate(-90)" font-size="66">pg/mL</text>
<text x="1582.0" y="404.0" font-size="57">a</text>
<text x="1706.0" y="296.5" font-size="57">a</text>
<text x="1831.5" y="632.0" font-size="57">b</text>
<text x="1952.5" y="620.0" font-size="57">b</text>
<text x="2078.5" y="646.5" font-size="57">b</text>
<text x="2201.5" y="675.5" font-size="57">b</text>
<text x="1519.5" y="220.3" font-size="72">(e)</text>
<text transform="translate(1441.1,848.2) scale(0.9166,1)" font-size="52">Trx:</text>
<text transform="translate(1389.4,924.0) scale(0.9445,1)" font-size="52">Geno:</text>
<text transform="translate(1543.3,854.5) scale(0.9364,1)" font-size="52">CON</text>
<text transform="translate(1681.9,859.0) scale(0.9606,1)" font-size="52">GW</text>
<text transform="translate(1794.7,858.5) scale(0.9318,1)" font-size="52">CON</text>
<text transform="translate(1934.0,859.5) scale(0.9491,1)" font-size="52">GW</text>
<text transform="translate(2039.8,856.5) scale(0.9318,1)" font-size="52">CON</text>
<text transform="translate(2180.6,859.0) scale(0.9491,1)" font-size="52">GW</text>
<text transform="translate(1556.4,926.6) scale(0.9479,1)" font-size="52">Wild-type</text>
<text transform="translate(1797.7,926.0) scale(0.9337,1)" font-size="52"><tspan font-style="italic">Ppara</tspan>-null</text>
<text transform="translate(2056.7,922.5) scale(0.9690,1)" font-size="52" font-style="italic">hPPARA</text>
<text transform="translate(1454.0,1616.5) scale(0.9850,1)" font-size="65">0</text>
<text transform="translate(1418.4,1486.0) scale(0.9850,1)" font-size="65">10</text>
<text transform="translate(1418.4,1355.4) scale(0.9850,1)" font-size="65">20</text>
<text transform="translate(1418.4,1224.8) scale(0.9850,1)" font-size="65">30</text>
<text transform="translate(1418.4,1094.3) scale(0.9850,1)" font-size="65">40</text>
<text transform="translate(1385.5,1411.4) rotate(-90)" font-size="66">pg/mL</text>
<text x="1582.0" y="1120.5" font-size="57">a</text>
<text x="1707.5" y="1376.5" font-size="57">b</text>
<text x="1831.5" y="1348.0" font-size="57">b</text>
<text x="1952.5" y="1416.5" font-size="57">b</text>
<text x="2078.0" y="1399.0" font-size="57">b</text>
<text x="2201.0" y="1376.5" font-size="57">b</text>
<text x="1519.5" y="1029.8" font-size="72">(f)</text>
<text transform="translate(1441.1,1659.2) scale(0.9166,1)" font-size="52">Trx:</text>
<text transform="translate(1389.4,1735.0) scale(0.9445,1)" font-size="52">Geno:</text>
<text transform="translate(1543.3,1665.5) scale(0.9364,1)" font-size="52">CON</text>
<text transform="translate(1681.9,1670.0) scale(0.9606,1)" font-size="52">GW</text>
<text transform="translate(1794.7,1669.5) scale(0.9318,1)" font-size="52">CON</text>
<text transform="translate(1934.0,1670.5) scale(0.9491,1)" font-size="52">GW</text>
<text transform="translate(2039.8,1667.5) scale(0.9318,1)" font-size="52">CON</text>
<text transform="translate(2180.6,1670.0) scale(0.9491,1)" font-size="52">GW</text>
<text transform="translate(1556.4,1737.6) scale(0.9479,1)" font-size="52">Wild-type</text>
<text transform="translate(1797.7,1737.0) scale(0.9337,1)" font-size="52"><tspan font-style="italic">Ppara</tspan>-null</text>
<text transform="translate(2056.7,1733.5) scale(0.9690,1)" font-size="52" font-style="italic">hPPARA</text>
<text transform="translate(1454.0,2434.0) scale(0.9850,1)" font-size="65">0</text>
<text transform="translate(1455.0,2329.8) scale(0.9850,1)" font-size="65">1</text>
<text transform="translate(1455.0,2225.5) scale(0.9850,1)" font-size="65">2</text>
<text transform="translate(1454.0,2121.3) scale(0.9850,1)" font-size="65">3</text>
<text transform="translate(1453.0,2017.0) scale(0.9850,1)" font-size="65">4</text>
<text transform="translate(1454.0,1912.8) scale(0.9850,1)" font-size="65">5</text>
<text transform="translate(1385.5,2229.4) rotate(-90)" font-size="66">pg/mL</text>
<text x="1582.0" y="1938.0" font-size="57">a</text>
<text x="1706.0" y="1977.0" font-size="57">a</text>
<text x="1831.5" y="2170.3" font-size="57">b</text>
<text x="1952.5" y="2180.3" font-size="57">b</text>
<text x="2078.5" y="2157.2" font-size="57">b</text>
<text x="2202.0" y="2168.5" font-size="57">b</text>
<text x="1519.5" y="1848.3" font-size="72">(g)</text>
<text transform="translate(1441.1,2476.7) scale(0.9166,1)" font-size="52">Trx:</text>
<text transform="translate(1389.4,2552.5) scale(0.9445,1)" font-size="52">Geno:</text>
<text transform="translate(1543.3,2483.0) scale(0.9364,1)" font-size="52">CON</text>
<text transform="translate(1681.9,2487.5) scale(0.9606,1)" font-size="52">GW</text>
<text transform="translate(1794.7,2487.0) scale(0.9318,1)" font-size="52">CON</text>
<text transform="translate(1934.0,2488.0) scale(0.9491,1)" font-size="52">GW</text>
<text transform="translate(2039.8,2485.0) scale(0.9318,1)" font-size="52">CON</text>
<text transform="translate(2180.6,2487.5) scale(0.9491,1)" font-size="52">GW</text>
<text transform="translate(1556.4,2555.1) scale(0.9479,1)" font-size="52">Wild-type</text>
<text transform="translate(1797.7,2554.5) scale(0.9337,1)" font-size="52"><tspan font-style="italic">Ppara</tspan>-null</text>
<text transform="translate(2056.7,2551.0) scale(0.9690,1)" font-size="52" font-style="italic">hPPARA</text>
<text transform="translate(1454.0,3252.1) scale(0.9850,1)" font-size="65">0</text>
<text transform="translate(1454.0,3147.7) scale(0.9850,1)" font-size="65">5</text>
<text transform="translate(1418.4,3043.3) scale(0.9850,1)" font-size="65">10</text>
<text transform="translate(1418.4,2939.0) scale(0.9850,1)" font-size="65">15</text>
<text transform="translate(1418.4,2834.6) scale(0.9850,1)" font-size="65">20</text>
<text transform="translate(1418.4,2730.2) scale(0.9850,1)" font-size="65">25</text>
<text transform="translate(1385.5,3047.1) rotate(-90)" font-size="66">pg/mL</text>
<text x="1582.0" y="2782.0" font-size="57">a</text>
<text x="1705.5" y="2873.5" font-size="57">b</text>
<text x="1829.0" y="2968.0" font-size="57">b</text>
<text x="1952.5" y="2995.2" font-size="57">b</text>
<text x="2076.0" y="2974.7" font-size="57">b</text>
<text x="2200.0" y="2984.0" font-size="57">b</text>
<text x="1519.5" y="2665.7" font-size="72">(h)</text>
<text transform="translate(1441.1,3294.8) scale(0.9166,1)" font-size="52">Trx:</text>
<text transform="translate(1389.4,3370.6) scale(0.9445,1)" font-size="52">Geno:</text>
<text transform="translate(1543.3,3301.1) scale(0.9364,1)" font-size="52">CON</text>
<text transform="translate(1681.9,3305.6) scale(0.9606,1)" font-size="52">GW</text>
<text transform="translate(1794.7,3305.1) scale(0.9318,1)" font-size="52">CON</text>
<text transform="translate(1934.0,3306.1) scale(0.9491,1)" font-size="52">GW</text>
<text transform="translate(2039.8,3303.1) scale(0.9318,1)" font-size="52">CON</text>
<text transform="translate(2180.6,3305.6) scale(0.9491,1)" font-size="52">GW</text>
<text transform="translate(1556.4,3373.2) scale(0.9479,1)" font-size="52">Wild-type</text>
<text transform="translate(1797.7,3372.6) scale(0.9337,1)" font-size="52"><tspan font-style="italic">Ppara</tspan>-null</text>
<text transform="translate(2056.7,3369.1) scale(0.9690,1)" font-size="52" font-style="italic">hPPARA</text>
<text x="636.5" y="106.0" font-size="102">26 weeks</text>
<text x="1654.0" y="107.0" font-size="102">~75 weeks</text>
<text transform="translate(113.0,1162.0) rotate(-90) scale(0.9727,1)" font-size="105">Adult only</text>
<text transform="translate(134.3,2927.8) rotate(-90) scale(0.9694,1)" font-size="105">Perinatal + Adult</text>
<text transform="translate(260.7,646.9) rotate(-90) scale(0.9536,1)" font-size="105">IFN-γ</text>
<text transform="translate(262.3,1485.2) rotate(-90) scale(0.9510,1)" font-size="105">TNF-α</text>
<text transform="translate(262.3,2274.6) rotate(-90) scale(0.9581,1)" font-size="105">IFN-γ</text>
<text transform="translate(259.7,3117.4) rotate(-90) scale(0.9537,1)" font-size="105">TNF-α</text>
</svg>
</body></html>
